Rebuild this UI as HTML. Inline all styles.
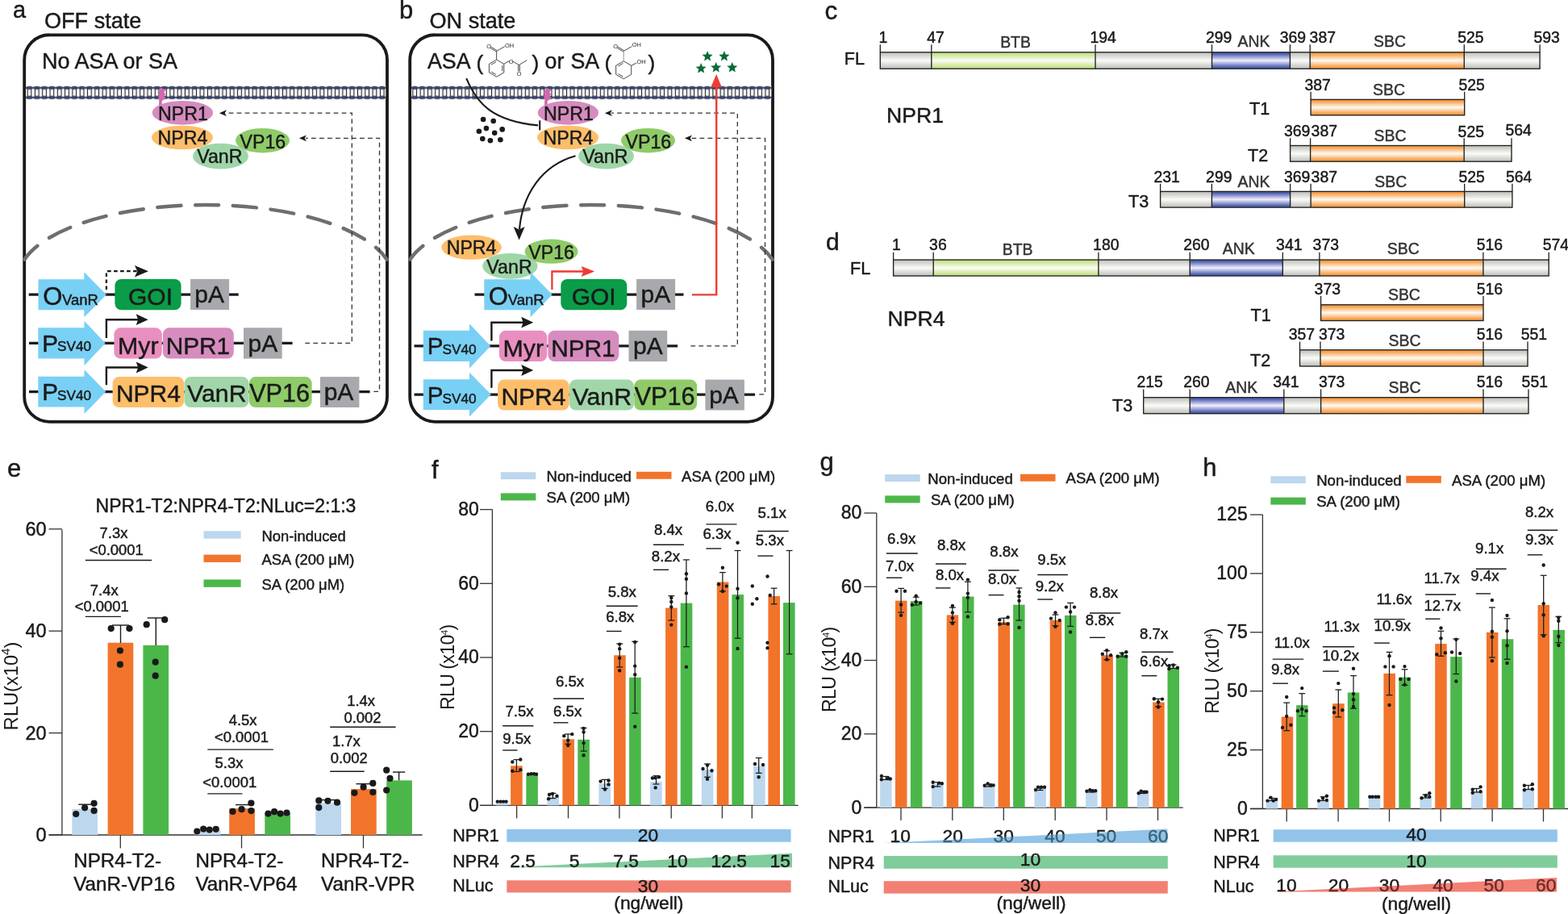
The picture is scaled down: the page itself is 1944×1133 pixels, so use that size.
<!DOCTYPE html><html><head><meta charset="utf-8"><title>Figure</title><style>html,body{margin:0;padding:0;background:#fff;overflow:hidden;}svg{display:block;}</style></head><body>
<svg width="1944" height="1133" viewBox="0 0 1944 1133" font-family="'Liberation Sans', Arial, sans-serif">
<rect x="0" y="0" width="1944" height="1133" fill="#fff"/>
<defs>
<pattern id="memA" x="59.718" y="106.6" width="9.304" height="17" patternUnits="userSpaceOnUse">
<rect x="0" y="0" width="9.3" height="17" fill="#fff"/>
<rect x="0" y="1.5" width="9.3" height="1.8" fill="#262628"/>
<rect x="0" y="13.4" width="9.3" height="1.8" fill="#262628"/>
<rect x="2.3" y="2.6" width="4.7" height="11.6" rx="1.6" fill="#fff" stroke="#262628" stroke-width="1.15"/>
<ellipse cx="4.65" cy="2.2" rx="4.1" ry="1.75" fill="#37498c" stroke="#262628" stroke-width="0.75"/>
<ellipse cx="4.65" cy="14.3" rx="4.1" ry="1.75" fill="#37498c" stroke="#262628" stroke-width="0.75"/>
</pattern>
<pattern id="memB" x="537.409" y="106.6" width="9.301" height="17" patternUnits="userSpaceOnUse">
<rect x="0" y="0" width="9.3" height="17" fill="#fff"/>
<rect x="0" y="1.5" width="9.3" height="1.8" fill="#262628"/>
<rect x="0" y="13.4" width="9.3" height="1.8" fill="#262628"/>
<rect x="2.3" y="2.6" width="4.7" height="11.6" rx="1.6" fill="#fff" stroke="#262628" stroke-width="1.15"/>
<ellipse cx="4.65" cy="2.2" rx="4.1" ry="1.75" fill="#37498c" stroke="#262628" stroke-width="0.75"/>
<ellipse cx="4.65" cy="14.3" rx="4.1" ry="1.75" fill="#37498c" stroke="#262628" stroke-width="0.75"/>
</pattern>
<linearGradient id="gGray" x1="0" y1="0" x2="0" y2="1">
<stop offset="0" stop-color="#c9cac4"/><stop offset="0.1" stop-color="#c9cac4"/><stop offset="0.5" stop-color="#fbfbf9"/><stop offset="0.9" stop-color="#c9cac4"/><stop offset="1" stop-color="#c9cac4"/>
</linearGradient>
<linearGradient id="gGreen" x1="0" y1="0" x2="0" y2="1">
<stop offset="0" stop-color="#c6e28c"/><stop offset="0.1" stop-color="#c6e28c"/><stop offset="0.5" stop-color="#fbfdf6"/><stop offset="0.9" stop-color="#c6e28c"/><stop offset="1" stop-color="#c6e28c"/>
</linearGradient>
<linearGradient id="gBlue" x1="0" y1="0" x2="0" y2="1">
<stop offset="0" stop-color="#5060b0"/><stop offset="0.1" stop-color="#5060b0"/><stop offset="0.5" stop-color="#f0f0ff"/><stop offset="0.9" stop-color="#5060b0"/><stop offset="1" stop-color="#5060b0"/>
</linearGradient>
<linearGradient id="gOrange" x1="0" y1="0" x2="0" y2="1">
<stop offset="0" stop-color="#f79f48"/><stop offset="0.1" stop-color="#f79f48"/><stop offset="0.5" stop-color="#fffaf4"/><stop offset="0.9" stop-color="#f79f48"/><stop offset="1" stop-color="#f79f48"/>
</linearGradient>
<marker id="ahB" viewBox="0 0 10 10" refX="9" refY="5" markerWidth="10" markerHeight="10" markerUnits="userSpaceOnUse" orient="auto"><path d="M0,0 L10,5 L0,10 L2.5,5 z" fill="#1a1a1a"/></marker>
</defs>
<text x="15.9" y="22.3" font-size="28.9" fill="#1a1a1a" stroke="#1a1a1a" stroke-width="0.45">a</text>
<text x="55" y="35" font-size="27.1" fill="#1a1a1a" stroke="#1a1a1a" stroke-width="0.45">OFF state</text>
<text x="52" y="84.9" font-size="27" fill="#1a1a1a" stroke="#1a1a1a" stroke-width="0.45">No ASA or SA</text>
<rect x="30.2" y="43.3" width="449.8" height="479.5" rx="31" fill="none" stroke="#1a1a1a" stroke-width="3.85"/>
<rect x="32" y="106.6" width="446.3" height="16.6" fill="url(#memA)"/>
<path d="M30.5,321.53 A232,90.3 0 0 1 479.5,321.53" fill="none" stroke="#6d6e71" stroke-width="4.5" stroke-dasharray="29.1 17.7" stroke-dashoffset="5.8" stroke-linecap="round"/>
<path d="M200.2,108.9 L205.5,111.7 L203.1,114.6 L205.2,116.5 L203.2,118.8 L205.7,121.5 L200.7,125.2 L200.7,131 L197,131 L197.3,122.5 L196,119.9 L198.1,117.2 L195.2,114.5 L198.6,110.9 Z" fill="#d466ad" stroke="none" stroke-width="1"/>
<ellipse cx="226.4" cy="139.8" rx="37.7" ry="14.9" fill="#d68bbf"/>
<ellipse cx="226" cy="170.5" rx="38" ry="14.8" fill="#fdbe6a"/>
<ellipse cx="273.5" cy="193.6" rx="34.5" ry="15.9" fill="#9fd6a8"/>
<ellipse cx="325.5" cy="174.2" rx="33.5" ry="15.3" fill="#8fcb68"/>
<text x="226.9" y="148.8" font-size="23.2" text-anchor="middle" fill="#1a1a1a" stroke="#1a1a1a" stroke-width="0.45">NPR1</text>
<text x="226.4" y="178.6" font-size="23.2" text-anchor="middle" fill="#1a1a1a" stroke="#1a1a1a" stroke-width="0.45">NPR4</text>
<text x="272.3" y="202.1" font-size="23.2" text-anchor="middle" fill="#1a1a1a" stroke="#1a1a1a" stroke-width="0.45">VanR</text>
<text x="325.9" y="183.5" font-size="23.2" text-anchor="middle" fill="#1a1a1a" stroke="#1a1a1a" stroke-width="0.45">VP16</text>
<path d="M378.3,425.3 L436.3,425.3 L436.3,140.2 L280,140.2" fill="none" stroke="#333" stroke-width="1.3" stroke-dasharray="5.8 4.2"/>
<path d="M271.9,140.2 L280.9,136.3 L278.7,140.2 L280.9,144.1 Z" fill="#1a1a1a" stroke="none" stroke-width="1"/>
<path d="M463.3,485.4 L470.5,485.4 L470.5,171.3 L379,171.3" fill="none" stroke="#333" stroke-width="1.3" stroke-dasharray="5.8 4.2"/>
<path d="M370.9,171.3 L379.9,167.4 L377.7,171.3 L379.9,175.2 Z" fill="#1a1a1a" stroke="none" stroke-width="1"/>
<line x1="35.7" y1="365.2" x2="295.7" y2="365.2" stroke="#1a1a1a" stroke-width="3.3"/>
<path d="M47.5,346.2 L104.3,346.2 L104.3,337.2 L131.9,365.2 L104.3,393.2 L104.3,384.2 L47.5,384.2 Z" fill="#79d0f5" stroke="none" stroke-width="1"/>
<rect x="142.4" y="345.9" width="82.2" height="38.4" rx="8" fill="#0a9c49"/>
<rect x="236.1" y="345.9" width="48" height="38.1" fill="#a7a9ac"/>
<text x="53.2" y="378" font-size="31" fill="#1a1a1a" stroke="#1a1a1a" stroke-width="0.45">O</text>
<text x="77" y="377.5" font-size="18.5" fill="#1a1a1a" stroke="#1a1a1a" stroke-width="0.45">VanR</text>
<text x="186.5" y="377.8" font-size="30" text-anchor="middle" fill="#1a1a1a" stroke="#1a1a1a" stroke-width="0.45">GOI</text>
<text x="259.6" y="375.3" font-size="30" text-anchor="middle" fill="#1a1a1a" stroke="#1a1a1a" stroke-width="0.45">pA</text>
<path d="M131.9,359 L131.9,336.2 L170,336.2" fill="none" stroke="#1a1a1a" stroke-width="2.3" stroke-dasharray="4.6 3.4"/>
<path d="M183.9,336.3 L166.9,329.1 L170.4,336.3 L166.9,343.5 Z" fill="#1a1a1a" stroke="none" stroke-width="1"/>
<line x1="36" y1="425.4" x2="362.6" y2="425.4" stroke="#1a1a1a" stroke-width="3.3"/>
<path d="M47.3,406.3 L104.5,406.3 L104.5,397.7 L130.7,425.4 L104.5,453.1 L104.5,444.5 L47.3,444.5 Z" fill="#79d0f5" stroke="none" stroke-width="1"/>
<rect x="141.4" y="406.3" width="59.4" height="38.3" rx="8" fill="#e98fc0"/>
<rect x="201.9" y="406.3" width="87.9" height="38.3" rx="8" fill="#d78cbf"/>
<rect x="302" y="406.3" width="47.7" height="38.3" fill="#a7a9ac"/>
<text x="52.3" y="435.6" font-size="29.5" fill="#1a1a1a" stroke="#1a1a1a" stroke-width="0.45">P</text>
<text x="71" y="435.4" font-size="17.2" fill="#1a1a1a" stroke="#1a1a1a" stroke-width="0.45">SV40</text>
<text x="171.3" y="438.5" font-size="30.3" text-anchor="middle" fill="#1a1a1a" stroke="#1a1a1a" stroke-width="0.45">Myr</text>
<text x="245.4" y="438.5" font-size="29.8" text-anchor="middle" fill="#1a1a1a" stroke="#1a1a1a" stroke-width="0.45">NPR1</text>
<text x="325.9" y="435.5" font-size="30" text-anchor="middle" fill="#1a1a1a" stroke="#1a1a1a" stroke-width="0.45">pA</text>
<path d="M131.9,419 L131.9,396.2 L172,396.2" fill="none" stroke="#1a1a1a" stroke-width="2.4"/>
<path d="M183.7,396.2 L168.7,389.3 L171.2,396.2 L168.7,403.1 Z" fill="#1a1a1a" stroke="none" stroke-width="1"/>
<line x1="36" y1="485.6" x2="458.6" y2="485.6" stroke="#1a1a1a" stroke-width="3.3"/>
<path d="M47.3,466.8 L104.5,466.8 L104.5,458.2 L131.3,485.6 L104.5,513 L104.5,504.4 L47.3,504.4 Z" fill="#79d0f5" stroke="none" stroke-width="1"/>
<rect x="139.6" y="467.1" width="88.6" height="37.9" rx="8" fill="#fdbe6a"/>
<rect x="228.5" y="467.1" width="80" height="37.9" rx="8" fill="#a1d6a9"/>
<rect x="308.8" y="467.1" width="77.8" height="37.9" rx="8" fill="#8fcb68"/>
<rect x="396.9" y="467.1" width="48.5" height="37.9" fill="#a7a9ac"/>
<text x="52.3" y="496.3" font-size="29.5" fill="#1a1a1a" stroke="#1a1a1a" stroke-width="0.45">P</text>
<text x="71" y="496.1" font-size="17.2" fill="#1a1a1a" stroke="#1a1a1a" stroke-width="0.45">SV40</text>
<text x="183.9" y="498.2" font-size="30" text-anchor="middle" fill="#1a1a1a" stroke="#1a1a1a" stroke-width="0.45">NPR4</text>
<text x="268.8" y="498.2" font-size="30.3" text-anchor="middle" fill="#1a1a1a" stroke="#1a1a1a" stroke-width="0.45">VanR</text>
<text x="346.6" y="498.2" font-size="30.6" text-anchor="middle" fill="#1a1a1a" stroke="#1a1a1a" stroke-width="0.45">VP16</text>
<text x="420" y="496.3" font-size="30" text-anchor="middle" fill="#1a1a1a" stroke="#1a1a1a" stroke-width="0.45">pA</text>
<path d="M131.9,477.3 L131.9,455.5 L172,455.5" fill="none" stroke="#1a1a1a" stroke-width="2.4"/>
<path d="M183.7,455.5 L168.7,448.6 L171.2,455.5 L168.7,462.4 Z" fill="#1a1a1a" stroke="none" stroke-width="1"/>
<text x="495" y="22.5" font-size="31" fill="#1a1a1a" stroke="#1a1a1a" stroke-width="0.45">b</text>
<text x="532.5" y="35" font-size="27.1" fill="#1a1a1a" stroke="#1a1a1a" stroke-width="0.45">ON state</text>
<rect x="508.2" y="43.3" width="449.8" height="479.5" rx="31" fill="none" stroke="#1a1a1a" stroke-width="3.85"/>
<rect x="510" y="106.6" width="446.3" height="16.6" fill="url(#memB)"/>
<path d="M508.5,321.53 A232,90.3 0 0 1 957.5,321.53" fill="none" stroke="#6d6e71" stroke-width="4.5" stroke-dasharray="29.1 17.7" stroke-dashoffset="5.8" stroke-linecap="round"/>
<path d="M678.2,108.9 L683.5,111.7 L681.1,114.6 L683.2,116.5 L681.2,118.8 L683.7,121.5 L678.7,125.2 L678.7,131 L675,131 L675.3,122.5 L674,119.9 L676.1,117.2 L673.2,114.5 L676.6,110.9 Z" fill="#d466ad" stroke="none" stroke-width="1"/>
<ellipse cx="704.4" cy="139.8" rx="37.7" ry="14.9" fill="#d68bbf"/>
<ellipse cx="704" cy="170.5" rx="38" ry="14.8" fill="#fdbe6a"/>
<ellipse cx="751.5" cy="193.6" rx="34.5" ry="15.9" fill="#9fd6a8"/>
<ellipse cx="803.5" cy="174.2" rx="33.5" ry="15.3" fill="#8fcb68"/>
<text x="704.9" y="148.8" font-size="23.2" text-anchor="middle" fill="#1a1a1a" stroke="#1a1a1a" stroke-width="0.45">NPR1</text>
<text x="704.4" y="178.6" font-size="23.2" text-anchor="middle" fill="#1a1a1a" stroke="#1a1a1a" stroke-width="0.45">NPR4</text>
<text x="750.3" y="202.1" font-size="23.2" text-anchor="middle" fill="#1a1a1a" stroke="#1a1a1a" stroke-width="0.45">VanR</text>
<text x="803.9" y="183.5" font-size="23.2" text-anchor="middle" fill="#1a1a1a" stroke="#1a1a1a" stroke-width="0.45">VP16</text>
<path d="M856.3,428.8 L914.3,428.8 L914.3,140.2 L758,140.2" fill="none" stroke="#333" stroke-width="1.3" stroke-dasharray="5.8 4.2"/>
<path d="M749.9,140.2 L758.9,136.3 L756.7,140.2 L758.9,144.1 Z" fill="#1a1a1a" stroke="none" stroke-width="1"/>
<path d="M941.3,488.9 L948.5,488.9 L948.5,171.3 L857,171.3" fill="none" stroke="#333" stroke-width="1.3" stroke-dasharray="5.8 4.2"/>
<path d="M848.9,171.3 L857.9,167.4 L855.7,171.3 L857.9,175.2 Z" fill="#1a1a1a" stroke="none" stroke-width="1"/>
<text x="530" y="85.3" font-size="26.8" fill="#1a1a1a" stroke="#1a1a1a" stroke-width="0.45">ASA</text>
<text x="590.5" y="86.5" font-size="26.2" fill="#1a1a1a" stroke="#1a1a1a" stroke-width="0.45">(</text>
<text x="659.5" y="86.5" font-size="26.2" fill="#1a1a1a" stroke="#1a1a1a" stroke-width="0.45">)</text>
<text x="675.5" y="85.3" font-size="26.8" fill="#1a1a1a" stroke="#1a1a1a" stroke-width="0.45">or</text>
<text x="707.5" y="85.3" font-size="26.8" fill="#1a1a1a" stroke="#1a1a1a" stroke-width="0.45">SA</text>
<text x="749.5" y="86.5" font-size="26.2" fill="#1a1a1a" stroke="#1a1a1a" stroke-width="0.45">(</text>
<text x="803.5" y="86.5" font-size="26.2" fill="#1a1a1a" stroke="#1a1a1a" stroke-width="0.45">)</text>
<path d="M615.6,74 L624.78,79.3 L624.78,89.9 L615.6,95.2 L606.42,89.9 L606.42,79.3 Z" fill="none" stroke="#333" stroke-width="0.9"/>
<line x1="622.78" y1="81.21" x2="622.78" y2="87.99" stroke="#333" stroke-width="0.9"/>
<line x1="614.95" y1="92.51" x2="609.07" y2="89.12" stroke="#333" stroke-width="0.9"/>
<line x1="609.07" y1="80.08" x2="614.95" y2="76.69" stroke="#333" stroke-width="0.9"/>
<line x1="615.6" y1="74" x2="615.7" y2="63.3" stroke="#333" stroke-width="0.9"/>
<line x1="616.12" y1="62.62" x2="608.72" y2="58.12" stroke="#333" stroke-width="0.9"/>
<line x1="615.28" y1="63.98" x2="607.88" y2="59.48" stroke="#333" stroke-width="0.9"/>
<line x1="615.7" y1="63.3" x2="625.8" y2="57.6" stroke="#333" stroke-width="0.9"/>
<text x="606.2" y="60.2" font-size="7.4" text-anchor="middle" fill="#222">O</text>
<text x="626" y="58.8" font-size="7.4" fill="#222">OH</text>
<line x1="624.78" y1="79.3" x2="631.3" y2="75.6" stroke="#333" stroke-width="0.9"/>
<text x="633.6" y="78.6" font-size="7.4" text-anchor="middle" fill="#222">O</text>
<line x1="636" y1="76.3" x2="643.5" y2="80.5" stroke="#333" stroke-width="0.9"/>
<line x1="643.5" y1="80.5" x2="653.3" y2="74.6" stroke="#333" stroke-width="0.9"/>
<line x1="642.7" y1="80.5" x2="642.7" y2="88.5" stroke="#333" stroke-width="0.9"/>
<line x1="644.3" y1="80.5" x2="644.3" y2="88.5" stroke="#333" stroke-width="0.9"/>
<text x="643.5" y="94.2" font-size="7.4" text-anchor="middle" fill="#222">O</text>
<path d="M773.2,75.8 L782.73,81.3 L782.73,92.3 L773.2,97.8 L763.67,92.3 L763.67,81.3 Z" fill="none" stroke="#333" stroke-width="0.9"/>
<line x1="772.49" y1="95.08" x2="766.39" y2="91.56" stroke="#333" stroke-width="0.9"/>
<line x1="766.39" y1="82.04" x2="772.49" y2="78.52" stroke="#333" stroke-width="0.9"/>
<line x1="773.2" y1="75.8" x2="773.2" y2="63.3" stroke="#888" stroke-width="0.9"/>
<line x1="773.6" y1="62.61" x2="765.9" y2="58.11" stroke="#333" stroke-width="0.9"/>
<line x1="772.8" y1="63.99" x2="765.1" y2="59.49" stroke="#333" stroke-width="0.9"/>
<line x1="773.2" y1="63.3" x2="783.3" y2="57.6" stroke="#333" stroke-width="0.9"/>
<text x="763.2" y="60.2" font-size="7.4" text-anchor="middle" fill="#222">O</text>
<text x="783.8" y="58.4" font-size="7.4" fill="#222">OH</text>
<line x1="782.73" y1="81.3" x2="789.2" y2="78" stroke="#333" stroke-width="0.9"/>
<text x="789.5" y="79.4" font-size="7.4" fill="#222">OH</text>
<path d="M578.2,97.1 C592,130 612,150 667,155.4" fill="none" stroke="#1a1a1a" stroke-width="2.1"/>
<line x1="669.2" y1="149.3" x2="669.2" y2="161.4" stroke="#1a1a1a" stroke-width="2.1"/>
<circle cx="599.1" cy="148" r="3.3" fill="#1a1a1a"/>
<circle cx="611.7" cy="150" r="3.3" fill="#1a1a1a"/>
<circle cx="602.9" cy="159.1" r="3.3" fill="#1a1a1a"/>
<circle cx="622.7" cy="160.4" r="3.3" fill="#1a1a1a"/>
<circle cx="593.9" cy="162.7" r="3.3" fill="#1a1a1a"/>
<circle cx="613.2" cy="164.8" r="3.3" fill="#1a1a1a"/>
<circle cx="598.3" cy="172" r="3.3" fill="#1a1a1a"/>
<circle cx="607.9" cy="174.2" r="3.3" fill="#1a1a1a"/>
<circle cx="620.4" cy="173.3" r="3.3" fill="#1a1a1a"/>
<path d="M713.5,193.3 C672,205 648,240 644,284" fill="none" stroke="#1a1a1a" stroke-width="2.1"/>
<path d="M643.6,297.4 L636.6,280.9 L643.6,284.4 L650.6,280.9 Z" fill="#1a1a1a" stroke="none" stroke-width="1"/>
<path d="M877.1,63.1 L878.92,67.49 L883.66,67.87 L880.05,70.96 L881.16,75.58 L877.1,73.1 L873.04,75.58 L874.15,70.96 L870.54,67.87 L875.28,67.49 Z" fill="#0b6b37" stroke="none" stroke-width="1"/>
<path d="M897.9,63.1 L899.72,67.49 L904.46,67.87 L900.85,70.96 L901.96,75.58 L897.9,73.1 L893.84,75.58 L894.95,70.96 L891.34,67.87 L896.08,67.49 Z" fill="#0b6b37" stroke="none" stroke-width="1"/>
<path d="M869.1,78 L870.92,82.39 L875.66,82.77 L872.05,85.86 L873.16,90.48 L869.1,88 L865.04,90.48 L866.15,85.86 L862.54,82.77 L867.28,82.39 Z" fill="#0b6b37" stroke="none" stroke-width="1"/>
<path d="M887.7,76.9 L889.52,81.29 L894.26,81.67 L890.65,84.76 L891.76,89.38 L887.7,86.9 L883.64,89.38 L884.75,84.76 L881.14,81.67 L885.88,81.29 Z" fill="#0b6b37" stroke="none" stroke-width="1"/>
<path d="M907.8,76.9 L909.62,81.29 L914.36,81.67 L910.75,84.76 L911.86,89.38 L907.8,86.9 L903.74,89.38 L904.85,84.76 L901.24,81.67 L905.98,81.29 Z" fill="#0b6b37" stroke="none" stroke-width="1"/>
<path d="M858,365.4 L888.2,365.4 L888.2,106" fill="none" stroke="#ee3b33" stroke-width="2.4"/>
<path d="M888.1,92 L881.3,108.3 L894.9,108.3 Z" fill="#ee3b33" stroke="none" stroke-width="1"/>
<ellipse cx="584.6" cy="306.6" rx="37.3" ry="15.2" fill="#fdbe6a"/>
<ellipse cx="632.4" cy="329.8" rx="34.2" ry="15.9" fill="#9fd6a8"/>
<ellipse cx="683.6" cy="311.7" rx="33" ry="15.1" fill="#8fcb68"/>
<text x="584.6" y="315.2" font-size="23.2" text-anchor="middle" fill="#1a1a1a" stroke="#1a1a1a" stroke-width="0.45">NPR4</text>
<text x="631.5" y="338.6" font-size="23.2" text-anchor="middle" fill="#1a1a1a" stroke="#1a1a1a" stroke-width="0.45">VanR</text>
<text x="683.6" y="320.6" font-size="23.2" text-anchor="middle" fill="#1a1a1a" stroke="#1a1a1a" stroke-width="0.45">VP16</text>
<line x1="588.5" y1="365.2" x2="847.5" y2="365.2" stroke="#1a1a1a" stroke-width="3.3"/>
<path d="M600.3,346.2 L657.5,346.2 L657.5,337.2 L684.7,365.2 L657.5,393.2 L657.5,384.2 L600.3,384.2 Z" fill="#79d0f5" stroke="none" stroke-width="1"/>
<rect x="695.3" y="345.9" width="82" height="38.4" rx="8" fill="#0a9c49"/>
<rect x="789.1" y="345.9" width="48" height="38.1" fill="#a7a9ac"/>
<text x="605.8" y="378" font-size="31" fill="#1a1a1a" stroke="#1a1a1a" stroke-width="0.45">O</text>
<text x="629.8" y="377.5" font-size="18.5" fill="#1a1a1a" stroke="#1a1a1a" stroke-width="0.45">VanR</text>
<text x="736.2" y="377.8" font-size="30" text-anchor="middle" fill="#1a1a1a" stroke="#1a1a1a" stroke-width="0.45">GOI</text>
<text x="812.9" y="375.3" font-size="30" text-anchor="middle" fill="#1a1a1a" stroke="#1a1a1a" stroke-width="0.45">pA</text>
<path d="M684.4,359 L684.4,336.5 L724,336.5" fill="none" stroke="#ee3b33" stroke-width="2.3"/>
<path d="M737.2,336.5 L720.7,329.9 L723.3,336.5 L720.7,343.1 Z" fill="#ee3b33" stroke="none" stroke-width="1"/>
<g transform="translate(-0.5,3.5)">
<line x1="514" y1="425.4" x2="840.6" y2="425.4" stroke="#1a1a1a" stroke-width="3.3"/>
<path d="M525.3,406.3 L582.5,406.3 L582.5,397.7 L608.7,425.4 L582.5,453.1 L582.5,444.5 L525.3,444.5 Z" fill="#79d0f5" stroke="none" stroke-width="1"/>
<rect x="619.4" y="406.3" width="59.4" height="38.3" rx="8" fill="#e98fc0"/>
<rect x="679.9" y="406.3" width="87.9" height="38.3" rx="8" fill="#d78cbf"/>
<rect x="780" y="406.3" width="47.7" height="38.3" fill="#a7a9ac"/>
<text x="530.3" y="435.6" font-size="29.5" fill="#1a1a1a" stroke="#1a1a1a" stroke-width="0.45">P</text>
<text x="549" y="435.4" font-size="17.2" fill="#1a1a1a" stroke="#1a1a1a" stroke-width="0.45">SV40</text>
<text x="649.3" y="438.5" font-size="30.3" text-anchor="middle" fill="#1a1a1a" stroke="#1a1a1a" stroke-width="0.45">Myr</text>
<text x="723.4" y="438.5" font-size="29.8" text-anchor="middle" fill="#1a1a1a" stroke="#1a1a1a" stroke-width="0.45">NPR1</text>
<text x="803.9" y="435.5" font-size="30" text-anchor="middle" fill="#1a1a1a" stroke="#1a1a1a" stroke-width="0.45">pA</text>
<path d="M609.9,419 L609.9,396.2 L650,396.2" fill="none" stroke="#1a1a1a" stroke-width="2.4"/>
<path d="M661.7,396.2 L646.7,389.3 L649.2,396.2 L646.7,403.1 Z" fill="#1a1a1a" stroke="none" stroke-width="1"/>
<line x1="514" y1="485.6" x2="936.6" y2="485.6" stroke="#1a1a1a" stroke-width="3.3"/>
<path d="M525.3,466.8 L582.5,466.8 L582.5,458.2 L609.3,485.6 L582.5,513 L582.5,504.4 L525.3,504.4 Z" fill="#79d0f5" stroke="none" stroke-width="1"/>
<rect x="617.6" y="467.1" width="88.6" height="37.9" rx="8" fill="#fdbe6a"/>
<rect x="706.5" y="467.1" width="80" height="37.9" rx="8" fill="#a1d6a9"/>
<rect x="786.8" y="467.1" width="77.8" height="37.9" rx="8" fill="#8fcb68"/>
<rect x="874.9" y="467.1" width="48.5" height="37.9" fill="#a7a9ac"/>
<text x="530.3" y="496.3" font-size="29.5" fill="#1a1a1a" stroke="#1a1a1a" stroke-width="0.45">P</text>
<text x="549" y="496.1" font-size="17.2" fill="#1a1a1a" stroke="#1a1a1a" stroke-width="0.45">SV40</text>
<text x="661.9" y="498.2" font-size="30" text-anchor="middle" fill="#1a1a1a" stroke="#1a1a1a" stroke-width="0.45">NPR4</text>
<text x="746.8" y="498.2" font-size="30.3" text-anchor="middle" fill="#1a1a1a" stroke="#1a1a1a" stroke-width="0.45">VanR</text>
<text x="824.6" y="498.2" font-size="30.6" text-anchor="middle" fill="#1a1a1a" stroke="#1a1a1a" stroke-width="0.45">VP16</text>
<text x="898" y="496.3" font-size="30" text-anchor="middle" fill="#1a1a1a" stroke="#1a1a1a" stroke-width="0.45">pA</text>
<path d="M609.9,477.3 L609.9,455.5 L650,455.5" fill="none" stroke="#1a1a1a" stroke-width="2.4"/>
<path d="M661.7,455.5 L646.7,448.6 L649.2,455.5 L646.7,462.4 Z" fill="#1a1a1a" stroke="none" stroke-width="1"/>
</g>
<text x="1022.6" y="24.3" font-size="31.5" fill="#1a1a1a" stroke="#1a1a1a" stroke-width="0.45">c</text>
<rect x="1091.3" y="64.8" width="63.5" height="20.4" fill="url(#gGray)"/>
<rect x="1154.8" y="64.8" width="203.2" height="20.4" fill="url(#gGreen)"/>
<rect x="1358" y="64.8" width="144.5" height="20.4" fill="url(#gGray)"/>
<rect x="1502.5" y="64.8" width="96.9" height="20.4" fill="url(#gBlue)"/>
<rect x="1599.4" y="64.8" width="24.8" height="20.4" fill="url(#gGray)"/>
<rect x="1624.2" y="64.8" width="191.1" height="20.4" fill="url(#gOrange)"/>
<rect x="1815.3" y="64.8" width="93.8" height="20.4" fill="url(#gGray)"/>
<rect x="1091.3" y="64.8" width="817.8" height="20.4" fill="none" stroke="#1e1e1e" stroke-width="1.35"/>
<line x1="1154.8" y1="64.8" x2="1154.8" y2="85.2" stroke="#1e1e1e" stroke-width="1.35"/>
<line x1="1358" y1="64.8" x2="1358" y2="85.2" stroke="#1e1e1e" stroke-width="1.35"/>
<line x1="1502.5" y1="64.8" x2="1502.5" y2="85.2" stroke="#1e1e1e" stroke-width="1.35"/>
<line x1="1599.4" y1="64.8" x2="1599.4" y2="85.2" stroke="#1e1e1e" stroke-width="1.35"/>
<line x1="1624.2" y1="64.8" x2="1624.2" y2="85.2" stroke="#1e1e1e" stroke-width="1.35"/>
<line x1="1815.3" y1="64.8" x2="1815.3" y2="85.2" stroke="#1e1e1e" stroke-width="1.35"/>
<line x1="1091.3" y1="55.2" x2="1091.3" y2="64.8" stroke="#1e1e1e" stroke-width="1.3"/>
<line x1="1154.8" y1="55.2" x2="1154.8" y2="64.8" stroke="#1e1e1e" stroke-width="1.3"/>
<line x1="1358" y1="55.2" x2="1358" y2="64.8" stroke="#1e1e1e" stroke-width="1.3"/>
<line x1="1502.5" y1="55.2" x2="1502.5" y2="64.8" stroke="#1e1e1e" stroke-width="1.3"/>
<line x1="1599.4" y1="55.2" x2="1599.4" y2="64.8" stroke="#1e1e1e" stroke-width="1.3"/>
<line x1="1624.2" y1="55.2" x2="1624.2" y2="64.8" stroke="#1e1e1e" stroke-width="1.3"/>
<line x1="1815.3" y1="55.2" x2="1815.3" y2="64.8" stroke="#1e1e1e" stroke-width="1.3"/>
<line x1="1909.1" y1="55.2" x2="1909.1" y2="64.8" stroke="#1e1e1e" stroke-width="1.3"/>
<text x="1089.6" y="53.4" font-size="19.4" fill="#1a1a1a" stroke="#1a1a1a" stroke-width="0.45">1</text>
<text x="1149.2" y="53.4" font-size="19.4" fill="#1a1a1a" stroke="#1a1a1a" stroke-width="0.45">47</text>
<text x="1351.4" y="53.4" font-size="19.4" fill="#1a1a1a" stroke="#1a1a1a" stroke-width="0.45">194</text>
<text x="1495" y="53.4" font-size="19.4" fill="#1a1a1a" stroke="#1a1a1a" stroke-width="0.45">299</text>
<text x="1586.7" y="53.4" font-size="19.4" fill="#1a1a1a" stroke="#1a1a1a" stroke-width="0.45">369</text>
<text x="1623.6" y="53.4" font-size="19.4" fill="#1a1a1a" stroke="#1a1a1a" stroke-width="0.45">387</text>
<text x="1807.2" y="53.4" font-size="19.4" fill="#1a1a1a" stroke="#1a1a1a" stroke-width="0.45">525</text>
<text x="1901.4" y="53.4" font-size="19.4" fill="#1a1a1a" stroke="#1a1a1a" stroke-width="0.45">593</text>
<text x="1259" y="58.6" font-size="19.4" text-anchor="middle" fill="#333" stroke="#333" stroke-width="0.45">BTB</text>
<text x="1554.4" y="58.4" font-size="19.4" text-anchor="middle" fill="#333" stroke="#333" stroke-width="0.45">ANK</text>
<text x="1723" y="58.4" font-size="19.4" text-anchor="middle" fill="#333" stroke="#333" stroke-width="0.45">SBC</text>
<text x="1046.8" y="79.6" font-size="21.5" fill="#1a1a1a" stroke="#1a1a1a" stroke-width="0.45">FL</text>
<text x="1099" y="152" font-size="26.6" fill="#1a1a1a" stroke="#1a1a1a" stroke-width="0.45">NPR1</text>
<rect x="1625.1" y="123.4" width="190.6" height="19.4" fill="url(#gOrange)"/>
<rect x="1625.1" y="123.4" width="190.6" height="19.4" fill="none" stroke="#1e1e1e" stroke-width="1.35"/>
<line x1="1625.1" y1="113.8" x2="1625.1" y2="123.4" stroke="#1e1e1e" stroke-width="1.3"/>
<line x1="1815.7" y1="113.8" x2="1815.7" y2="123.4" stroke="#1e1e1e" stroke-width="1.3"/>
<text x="1617.5" y="111.8" font-size="19.4" fill="#1a1a1a" stroke="#1a1a1a" stroke-width="0.45">387</text>
<text x="1808.4" y="111.8" font-size="19.4" fill="#1a1a1a" stroke="#1a1a1a" stroke-width="0.45">525</text>
<text x="1722" y="117.6" font-size="19.4" text-anchor="middle" fill="#333" stroke="#333" stroke-width="0.45">SBC</text>
<text x="1549" y="141.6" font-size="21.5" fill="#1a1a1a" stroke="#1a1a1a" stroke-width="0.45">T1</text>
<rect x="1599.6" y="180.5" width="25" height="19.7" fill="url(#gGray)"/>
<rect x="1624.6" y="180.5" width="190.6" height="19.7" fill="url(#gOrange)"/>
<rect x="1815.2" y="180.5" width="58.8" height="19.7" fill="url(#gGray)"/>
<rect x="1599.6" y="180.5" width="274.4" height="19.7" fill="none" stroke="#1e1e1e" stroke-width="1.35"/>
<line x1="1624.6" y1="180.5" x2="1624.6" y2="200.2" stroke="#1e1e1e" stroke-width="1.35"/>
<line x1="1815.2" y1="180.5" x2="1815.2" y2="200.2" stroke="#1e1e1e" stroke-width="1.35"/>
<line x1="1599.6" y1="171.2" x2="1599.6" y2="180.5" stroke="#1e1e1e" stroke-width="1.3"/>
<line x1="1624.6" y1="171.2" x2="1624.6" y2="180.5" stroke="#1e1e1e" stroke-width="1.3"/>
<line x1="1815.2" y1="171.2" x2="1815.2" y2="180.5" stroke="#1e1e1e" stroke-width="1.3"/>
<line x1="1874" y1="171.2" x2="1874" y2="180.5" stroke="#1e1e1e" stroke-width="1.3"/>
<text x="1592" y="168.9" font-size="19.4" fill="#1a1a1a" stroke="#1a1a1a" stroke-width="0.45">369</text>
<text x="1625.6" y="168.9" font-size="19.4" fill="#1a1a1a" stroke="#1a1a1a" stroke-width="0.45">387</text>
<text x="1807.6" y="169.8" font-size="19.4" fill="#1a1a1a" stroke="#1a1a1a" stroke-width="0.45">525</text>
<text x="1866.4" y="168.3" font-size="19.4" fill="#1a1a1a" stroke="#1a1a1a" stroke-width="0.45">564</text>
<text x="1723.5" y="174.7" font-size="19.4" text-anchor="middle" fill="#333" stroke="#333" stroke-width="0.45">SBC</text>
<text x="1547" y="199.7" font-size="21.5" fill="#1a1a1a" stroke="#1a1a1a" stroke-width="0.45">T2</text>
<rect x="1438.6" y="237.4" width="63.8" height="19.7" fill="url(#gGray)"/>
<rect x="1502.4" y="237.4" width="97.2" height="19.7" fill="url(#gBlue)"/>
<rect x="1599.6" y="237.4" width="25.5" height="19.7" fill="url(#gGray)"/>
<rect x="1625.1" y="237.4" width="190.6" height="19.7" fill="url(#gOrange)"/>
<rect x="1815.7" y="237.4" width="59.2" height="19.7" fill="url(#gGray)"/>
<rect x="1438.6" y="237.4" width="436.3" height="19.7" fill="none" stroke="#1e1e1e" stroke-width="1.35"/>
<line x1="1502.4" y1="237.4" x2="1502.4" y2="257.1" stroke="#1e1e1e" stroke-width="1.35"/>
<line x1="1599.6" y1="237.4" x2="1599.6" y2="257.1" stroke="#1e1e1e" stroke-width="1.35"/>
<line x1="1625.1" y1="237.4" x2="1625.1" y2="257.1" stroke="#1e1e1e" stroke-width="1.35"/>
<line x1="1815.7" y1="237.4" x2="1815.7" y2="257.1" stroke="#1e1e1e" stroke-width="1.35"/>
<line x1="1438.6" y1="227.8" x2="1438.6" y2="237.4" stroke="#1e1e1e" stroke-width="1.3"/>
<line x1="1502.4" y1="227.8" x2="1502.4" y2="237.4" stroke="#1e1e1e" stroke-width="1.3"/>
<line x1="1599.6" y1="227.8" x2="1599.6" y2="237.4" stroke="#1e1e1e" stroke-width="1.3"/>
<line x1="1625.1" y1="227.8" x2="1625.1" y2="237.4" stroke="#1e1e1e" stroke-width="1.3"/>
<line x1="1815.7" y1="227.8" x2="1815.7" y2="237.4" stroke="#1e1e1e" stroke-width="1.3"/>
<line x1="1874.9" y1="227.8" x2="1874.9" y2="237.4" stroke="#1e1e1e" stroke-width="1.3"/>
<text x="1430.4" y="225.8" font-size="19.4" fill="#1a1a1a" stroke="#1a1a1a" stroke-width="0.45">231</text>
<text x="1495.1" y="225.8" font-size="19.4" fill="#1a1a1a" stroke="#1a1a1a" stroke-width="0.45">299</text>
<text x="1592" y="225.8" font-size="19.4" fill="#1a1a1a" stroke="#1a1a1a" stroke-width="0.45">369</text>
<text x="1625.6" y="225.8" font-size="19.4" fill="#1a1a1a" stroke="#1a1a1a" stroke-width="0.45">387</text>
<text x="1808.4" y="225.8" font-size="19.4" fill="#1a1a1a" stroke="#1a1a1a" stroke-width="0.45">525</text>
<text x="1867" y="225.8" font-size="19.4" fill="#1a1a1a" stroke="#1a1a1a" stroke-width="0.45">564</text>
<text x="1554.5" y="232.2" font-size="19.4" text-anchor="middle" fill="#333" stroke="#333" stroke-width="0.45">ANK</text>
<text x="1724.3" y="232.2" font-size="19.4" text-anchor="middle" fill="#333" stroke="#333" stroke-width="0.45">SBC</text>
<text x="1399" y="256.8" font-size="21.5" fill="#1a1a1a" stroke="#1a1a1a" stroke-width="0.45">T3</text>
<text x="1024" y="310.3" font-size="30" fill="#1a1a1a" stroke="#1a1a1a" stroke-width="0.45">d</text>
<rect x="1107.6" y="322.1" width="49.6" height="19.9" fill="url(#gGray)"/>
<rect x="1157.2" y="322.1" width="204.7" height="19.9" fill="url(#gGreen)"/>
<rect x="1361.9" y="322.1" width="113.3" height="19.9" fill="url(#gGray)"/>
<rect x="1475.2" y="322.1" width="115.1" height="19.9" fill="url(#gBlue)"/>
<rect x="1590.3" y="322.1" width="45.6" height="19.9" fill="url(#gGray)"/>
<rect x="1635.9" y="322.1" width="203" height="19.9" fill="url(#gOrange)"/>
<rect x="1838.9" y="322.1" width="81.3" height="19.9" fill="url(#gGray)"/>
<rect x="1107.6" y="322.1" width="812.6" height="19.9" fill="none" stroke="#1e1e1e" stroke-width="1.35"/>
<line x1="1157.2" y1="322.1" x2="1157.2" y2="342" stroke="#1e1e1e" stroke-width="1.35"/>
<line x1="1361.9" y1="322.1" x2="1361.9" y2="342" stroke="#1e1e1e" stroke-width="1.35"/>
<line x1="1475.2" y1="322.1" x2="1475.2" y2="342" stroke="#1e1e1e" stroke-width="1.35"/>
<line x1="1590.3" y1="322.1" x2="1590.3" y2="342" stroke="#1e1e1e" stroke-width="1.35"/>
<line x1="1635.9" y1="322.1" x2="1635.9" y2="342" stroke="#1e1e1e" stroke-width="1.35"/>
<line x1="1838.9" y1="322.1" x2="1838.9" y2="342" stroke="#1e1e1e" stroke-width="1.35"/>
<line x1="1107.6" y1="312.7" x2="1107.6" y2="322.1" stroke="#1e1e1e" stroke-width="1.3"/>
<line x1="1157.2" y1="312.7" x2="1157.2" y2="322.1" stroke="#1e1e1e" stroke-width="1.3"/>
<line x1="1361.9" y1="312.7" x2="1361.9" y2="322.1" stroke="#1e1e1e" stroke-width="1.3"/>
<line x1="1475.2" y1="312.7" x2="1475.2" y2="322.1" stroke="#1e1e1e" stroke-width="1.3"/>
<line x1="1590.3" y1="312.7" x2="1590.3" y2="322.1" stroke="#1e1e1e" stroke-width="1.3"/>
<line x1="1635.9" y1="312.7" x2="1635.9" y2="322.1" stroke="#1e1e1e" stroke-width="1.3"/>
<line x1="1838.9" y1="312.7" x2="1838.9" y2="322.1" stroke="#1e1e1e" stroke-width="1.3"/>
<line x1="1920.2" y1="312.7" x2="1920.2" y2="322.1" stroke="#1e1e1e" stroke-width="1.3"/>
<text x="1106" y="310.2" font-size="19.4" fill="#1a1a1a" stroke="#1a1a1a" stroke-width="0.45">1</text>
<text x="1152.1" y="310.2" font-size="19.4" fill="#1a1a1a" stroke="#1a1a1a" stroke-width="0.45">36</text>
<text x="1355.1" y="310.2" font-size="19.4" fill="#1a1a1a" stroke="#1a1a1a" stroke-width="0.45">180</text>
<text x="1467.2" y="310.2" font-size="19.4" fill="#1a1a1a" stroke="#1a1a1a" stroke-width="0.45">260</text>
<text x="1582.1" y="310.2" font-size="19.4" fill="#1a1a1a" stroke="#1a1a1a" stroke-width="0.45">341</text>
<text x="1627.6" y="310.2" font-size="19.4" fill="#1a1a1a" stroke="#1a1a1a" stroke-width="0.45">373</text>
<text x="1830.7" y="310.2" font-size="19.4" fill="#1a1a1a" stroke="#1a1a1a" stroke-width="0.45">516</text>
<text x="1912.8" y="310.2" font-size="19.4" fill="#1a1a1a" stroke="#1a1a1a" stroke-width="0.45">574</text>
<text x="1261.7" y="315.5" font-size="19.4" text-anchor="middle" fill="#333" stroke="#333" stroke-width="0.45">BTB</text>
<text x="1535.7" y="315.4" font-size="19.4" text-anchor="middle" fill="#333" stroke="#333" stroke-width="0.45">ANK</text>
<text x="1739.8" y="315.4" font-size="19.4" text-anchor="middle" fill="#333" stroke="#333" stroke-width="0.45">SBC</text>
<text x="1054" y="340.3" font-size="21.5" fill="#1a1a1a" stroke="#1a1a1a" stroke-width="0.45">FL</text>
<text x="1100.5" y="403.6" font-size="26.6" fill="#1a1a1a" stroke="#1a1a1a" stroke-width="0.45">NPR4</text>
<rect x="1637.6" y="377.8" width="201.4" height="19.7" fill="url(#gOrange)"/>
<rect x="1637.6" y="377.8" width="201.4" height="19.7" fill="none" stroke="#1e1e1e" stroke-width="1.35"/>
<line x1="1637.6" y1="367" x2="1637.6" y2="377.8" stroke="#1e1e1e" stroke-width="1.3"/>
<line x1="1839" y1="367" x2="1839" y2="377.8" stroke="#1e1e1e" stroke-width="1.3"/>
<text x="1629.6" y="365" font-size="19.4" fill="#1a1a1a" stroke="#1a1a1a" stroke-width="0.45">373</text>
<text x="1830.7" y="365" font-size="19.4" fill="#1a1a1a" stroke="#1a1a1a" stroke-width="0.45">516</text>
<text x="1740.9" y="372" font-size="19.4" text-anchor="middle" fill="#333" stroke="#333" stroke-width="0.45">SBC</text>
<text x="1550.5" y="397.5" font-size="21.5" fill="#1a1a1a" stroke="#1a1a1a" stroke-width="0.45">T1</text>
<rect x="1611.5" y="433.8" width="25.5" height="20.2" fill="url(#gGray)"/>
<rect x="1637" y="433.8" width="202" height="20.2" fill="url(#gOrange)"/>
<rect x="1839" y="433.8" width="55" height="20.2" fill="url(#gGray)"/>
<rect x="1611.5" y="433.8" width="282.5" height="20.2" fill="none" stroke="#1e1e1e" stroke-width="1.35"/>
<line x1="1637" y1="433.8" x2="1637" y2="454" stroke="#1e1e1e" stroke-width="1.35"/>
<line x1="1839" y1="433.8" x2="1839" y2="454" stroke="#1e1e1e" stroke-width="1.35"/>
<line x1="1611.5" y1="423.6" x2="1611.5" y2="433.8" stroke="#1e1e1e" stroke-width="1.3"/>
<line x1="1637" y1="423.6" x2="1637" y2="433.8" stroke="#1e1e1e" stroke-width="1.3"/>
<line x1="1839" y1="423.6" x2="1839" y2="433.8" stroke="#1e1e1e" stroke-width="1.3"/>
<line x1="1894" y1="423.6" x2="1894" y2="433.8" stroke="#1e1e1e" stroke-width="1.3"/>
<text x="1597.8" y="421.3" font-size="19.4" fill="#1a1a1a" stroke="#1a1a1a" stroke-width="0.45">357</text>
<text x="1634.9" y="421.3" font-size="19.4" fill="#1a1a1a" stroke="#1a1a1a" stroke-width="0.45">373</text>
<text x="1830.7" y="421.3" font-size="19.4" fill="#1a1a1a" stroke="#1a1a1a" stroke-width="0.45">516</text>
<text x="1885.8" y="421.3" font-size="19.4" fill="#1a1a1a" stroke="#1a1a1a" stroke-width="0.45">551</text>
<text x="1741.5" y="428.5" font-size="19.4" text-anchor="middle" fill="#333" stroke="#333" stroke-width="0.45">SBC</text>
<text x="1550" y="453.5" font-size="21.5" fill="#1a1a1a" stroke="#1a1a1a" stroke-width="0.45">T2</text>
<rect x="1417.7" y="492.7" width="57.5" height="20" fill="url(#gGray)"/>
<rect x="1475.2" y="492.7" width="116.6" height="20" fill="url(#gBlue)"/>
<rect x="1591.8" y="492.7" width="45.8" height="20" fill="url(#gGray)"/>
<rect x="1637.6" y="492.7" width="201.4" height="20" fill="url(#gOrange)"/>
<rect x="1839" y="492.7" width="56" height="20" fill="url(#gGray)"/>
<rect x="1417.7" y="492.7" width="477.3" height="20" fill="none" stroke="#1e1e1e" stroke-width="1.35"/>
<line x1="1475.2" y1="492.7" x2="1475.2" y2="512.7" stroke="#1e1e1e" stroke-width="1.35"/>
<line x1="1591.8" y1="492.7" x2="1591.8" y2="512.7" stroke="#1e1e1e" stroke-width="1.35"/>
<line x1="1637.6" y1="492.7" x2="1637.6" y2="512.7" stroke="#1e1e1e" stroke-width="1.35"/>
<line x1="1839" y1="492.7" x2="1839" y2="512.7" stroke="#1e1e1e" stroke-width="1.35"/>
<line x1="1417.7" y1="482.5" x2="1417.7" y2="492.7" stroke="#1e1e1e" stroke-width="1.3"/>
<line x1="1475.2" y1="482.5" x2="1475.2" y2="492.7" stroke="#1e1e1e" stroke-width="1.3"/>
<line x1="1591.8" y1="482.5" x2="1591.8" y2="492.7" stroke="#1e1e1e" stroke-width="1.3"/>
<line x1="1637.6" y1="482.5" x2="1637.6" y2="492.7" stroke="#1e1e1e" stroke-width="1.3"/>
<line x1="1839" y1="482.5" x2="1839" y2="492.7" stroke="#1e1e1e" stroke-width="1.3"/>
<line x1="1895" y1="482.5" x2="1895" y2="492.7" stroke="#1e1e1e" stroke-width="1.3"/>
<text x="1409.5" y="480.2" font-size="19.4" fill="#1a1a1a" stroke="#1a1a1a" stroke-width="0.45">215</text>
<text x="1467.2" y="480.2" font-size="19.4" fill="#1a1a1a" stroke="#1a1a1a" stroke-width="0.45">260</text>
<text x="1578.3" y="480.2" font-size="19.4" fill="#1a1a1a" stroke="#1a1a1a" stroke-width="0.45">341</text>
<text x="1634.9" y="480.2" font-size="19.4" fill="#1a1a1a" stroke="#1a1a1a" stroke-width="0.45">373</text>
<text x="1830.7" y="480.2" font-size="19.4" fill="#1a1a1a" stroke="#1a1a1a" stroke-width="0.45">516</text>
<text x="1886.6" y="480.2" font-size="19.4" fill="#1a1a1a" stroke="#1a1a1a" stroke-width="0.45">551</text>
<text x="1539.2" y="487.4" font-size="19.4" text-anchor="middle" fill="#333" stroke="#333" stroke-width="0.45">ANK</text>
<text x="1741.5" y="487.4" font-size="19.4" text-anchor="middle" fill="#333" stroke="#333" stroke-width="0.45">SBC</text>
<text x="1379" y="509.5" font-size="21.5" fill="#1a1a1a" stroke="#1a1a1a" stroke-width="0.45">T3</text>
<text x="9" y="590.7" font-size="31" fill="#1a1a1a" stroke="#1a1a1a" stroke-width="0.45">e</text>
<line x1="76.9" y1="656.4" x2="76.9" y2="1035" stroke="#333" stroke-width="1.3"/>
<line x1="60.5" y1="1035" x2="76.9" y2="1035" stroke="#333" stroke-width="1.3"/>
<text x="57.6" y="1042.9" font-size="23.5" text-anchor="end" fill="#1a1a1a" stroke="#1a1a1a" stroke-width="0.45">0</text>
<line x1="60.5" y1="908.6" x2="76.9" y2="908.6" stroke="#333" stroke-width="1.3"/>
<text x="57.6" y="916.5" font-size="23.5" text-anchor="end" fill="#1a1a1a" stroke="#1a1a1a" stroke-width="0.45">20</text>
<line x1="60.5" y1="782.2" x2="76.9" y2="782.2" stroke="#333" stroke-width="1.3"/>
<text x="57.6" y="790.1" font-size="23.5" text-anchor="end" fill="#1a1a1a" stroke="#1a1a1a" stroke-width="0.45">40</text>
<line x1="60.5" y1="655.8" x2="76.9" y2="655.8" stroke="#333" stroke-width="1.3"/>
<text x="57.6" y="663.7" font-size="23.5" text-anchor="end" fill="#1a1a1a" stroke="#1a1a1a" stroke-width="0.45">60</text>
<line x1="60.5" y1="1035" x2="523.6" y2="1035" stroke="#333" stroke-width="1.3"/>
<line x1="149.3" y1="1035" x2="149.3" y2="1051.4" stroke="#333" stroke-width="1.3"/>
<line x1="299.5" y1="1035" x2="299.5" y2="1051.4" stroke="#333" stroke-width="1.3"/>
<line x1="450.5" y1="1035" x2="450.5" y2="1051.4" stroke="#333" stroke-width="1.3"/>
<text x="280" y="635.1" font-size="23" text-anchor="middle" fill="#1a1a1a" stroke="#1a1a1a" stroke-width="0.45">NPR1-T2:NPR4-T2:NLuc=2:1:3</text>
<rect x="252.5" y="658.3" width="46.1" height="9.4" fill="#bdd7ee"/>
<rect x="252.5" y="687.6" width="46.1" height="9.3" fill="#f2742b"/>
<rect x="252.5" y="718.4" width="46.1" height="9.4" fill="#4bb749"/>
<text x="324.5" y="670.9" font-size="18.4" fill="#1a1a1a" stroke="#1a1a1a" stroke-width="0.45">Non-induced</text>
<text x="324.5" y="699.7" font-size="18.4" fill="#1a1a1a" stroke="#1a1a1a" stroke-width="0.45">ASA (200 μM)</text>
<text x="324.5" y="731.1" font-size="18.4" fill="#1a1a1a" stroke="#1a1a1a" stroke-width="0.45">SA (200 μM)</text>
<rect x="89.3" y="1002.77" width="31.7" height="32.23" fill="#bdd7ee"/>
<rect x="133.6" y="796.74" width="31.7" height="238.26" fill="#f2742b"/>
<rect x="177.4" y="799.9" width="31.7" height="235.1" fill="#4bb749"/>
<rect x="241.7" y="1028.68" width="31.7" height="6.32" fill="#bdd7ee"/>
<rect x="284.2" y="1002.14" width="31.7" height="32.86" fill="#f2742b"/>
<rect x="328.3" y="1007.82" width="31.7" height="27.18" fill="#4bb749"/>
<rect x="391.3" y="995.5" width="31.7" height="39.5" fill="#bdd7ee"/>
<rect x="435" y="978.12" width="31.7" height="56.88" fill="#f2742b"/>
<rect x="479.2" y="967.38" width="31.7" height="67.62" fill="#4bb749"/>
<line x1="97.3" y1="997.2" x2="113.7" y2="997.2" stroke="#1a1a1a" stroke-width="1.4"/>
<line x1="105.5" y1="997.2" x2="105.5" y2="1002.7" stroke="#1a1a1a" stroke-width="1.4"/>
<line x1="139" y1="775" x2="160" y2="775" stroke="#1a1a1a" stroke-width="1.4"/>
<line x1="149.5" y1="775" x2="149.5" y2="797" stroke="#1a1a1a" stroke-width="1.4"/>
<line x1="182.8" y1="766" x2="203.8" y2="766" stroke="#1a1a1a" stroke-width="1.4"/>
<line x1="193.3" y1="766" x2="193.3" y2="800" stroke="#1a1a1a" stroke-width="1.4"/>
<line x1="292" y1="997.6" x2="311" y2="997.6" stroke="#1a1a1a" stroke-width="1.4"/>
<line x1="396.3" y1="991.6" x2="417.3" y2="991.6" stroke="#1a1a1a" stroke-width="1.4"/>
<line x1="441.5" y1="971.7" x2="460.5" y2="971.7" stroke="#1a1a1a" stroke-width="1.4"/>
<line x1="487" y1="957.1" x2="502.2" y2="957.1" stroke="#1a1a1a" stroke-width="1.4"/>
<line x1="494.6" y1="957.1" x2="494.6" y2="967.3" stroke="#1a1a1a" stroke-width="1.4"/>
<circle cx="94.2" cy="1009" r="4.1" fill="#1a1a1a"/>
<circle cx="105.1" cy="1001.3" r="4.1" fill="#1a1a1a"/>
<circle cx="116.6" cy="995.8" r="4.1" fill="#1a1a1a"/>
<circle cx="116.6" cy="1004.9" r="4.1" fill="#1a1a1a"/>
<circle cx="137.7" cy="779.1" r="4.1" fill="#1a1a1a"/>
<circle cx="160.4" cy="779.1" r="4.1" fill="#1a1a1a"/>
<circle cx="148.9" cy="806.5" r="4.1" fill="#1a1a1a"/>
<circle cx="148.9" cy="823.7" r="4.1" fill="#1a1a1a"/>
<circle cx="181.7" cy="774.2" r="4.1" fill="#1a1a1a"/>
<circle cx="204.2" cy="768.2" r="4.1" fill="#1a1a1a"/>
<circle cx="192.7" cy="820.7" r="4.1" fill="#1a1a1a"/>
<circle cx="192.7" cy="837.7" r="4.1" fill="#1a1a1a"/>
<circle cx="244.3" cy="1030.5" r="4.1" fill="#1a1a1a"/>
<circle cx="252.2" cy="1027.6" r="4.1" fill="#1a1a1a"/>
<circle cx="259.7" cy="1028.6" r="4.1" fill="#1a1a1a"/>
<circle cx="267.7" cy="1027.8" r="4.1" fill="#1a1a1a"/>
<circle cx="288.5" cy="1005.9" r="4.1" fill="#1a1a1a"/>
<circle cx="299.6" cy="1003.2" r="4.1" fill="#1a1a1a"/>
<circle cx="311.4" cy="995.5" r="4.1" fill="#1a1a1a"/>
<circle cx="311.4" cy="1005.1" r="4.1" fill="#1a1a1a"/>
<circle cx="332.5" cy="1008.6" r="4.1" fill="#1a1a1a"/>
<circle cx="340.1" cy="1006.2" r="4.1" fill="#1a1a1a"/>
<circle cx="347.6" cy="1008.6" r="4.1" fill="#1a1a1a"/>
<circle cx="355.5" cy="1007.5" r="4.1" fill="#1a1a1a"/>
<circle cx="395.3" cy="992.4" r="4.1" fill="#1a1a1a"/>
<circle cx="395.3" cy="1001.1" r="4.1" fill="#1a1a1a"/>
<circle cx="406.4" cy="992.8" r="4.1" fill="#1a1a1a"/>
<circle cx="418" cy="994.7" r="4.1" fill="#1a1a1a"/>
<circle cx="439.4" cy="982.8" r="4.1" fill="#1a1a1a"/>
<circle cx="450.6" cy="975.7" r="4.1" fill="#1a1a1a"/>
<circle cx="462.3" cy="970.9" r="4.1" fill="#1a1a1a"/>
<circle cx="462.3" cy="982" r="4.1" fill="#1a1a1a"/>
<circle cx="479.2" cy="954.7" r="4.1" fill="#1a1a1a"/>
<circle cx="483.5" cy="964.9" r="4.1" fill="#1a1a1a"/>
<circle cx="479.2" cy="979.6" r="4.1" fill="#1a1a1a"/>
<line x1="105.9" y1="694.5" x2="188.1" y2="694.5" stroke="#1a1a1a" stroke-width="1.4"/>
<text x="141" y="667" font-size="18.4" text-anchor="middle" fill="#1a1a1a" stroke="#1a1a1a" stroke-width="0.45">7.3x</text>
<text x="144.2" y="688.1" font-size="18.4" text-anchor="middle" fill="#1a1a1a" stroke="#1a1a1a" stroke-width="0.45">&lt;0.0001</text>
<line x1="105.9" y1="764.4" x2="149.9" y2="764.4" stroke="#1a1a1a" stroke-width="1.4"/>
<text x="129.2" y="737.9" font-size="18.4" text-anchor="middle" fill="#1a1a1a" stroke="#1a1a1a" stroke-width="0.45">7.4x</text>
<text x="126.3" y="758" font-size="18.4" text-anchor="middle" fill="#1a1a1a" stroke="#1a1a1a" stroke-width="0.45">&lt;0.0001</text>
<line x1="257.3" y1="929.1" x2="338.9" y2="929.1" stroke="#1a1a1a" stroke-width="1.4"/>
<text x="301.1" y="899.4" font-size="18.4" text-anchor="middle" fill="#1a1a1a" stroke="#1a1a1a" stroke-width="0.45">4.5x</text>
<text x="299.5" y="919.6" font-size="18.4" text-anchor="middle" fill="#1a1a1a" stroke="#1a1a1a" stroke-width="0.45">&lt;0.0001</text>
<line x1="257.3" y1="983.9" x2="300.4" y2="983.9" stroke="#1a1a1a" stroke-width="1.4"/>
<text x="284" y="952.3" font-size="18.4" text-anchor="middle" fill="#1a1a1a" stroke="#1a1a1a" stroke-width="0.45">5.3x</text>
<text x="284.8" y="976.2" font-size="18.4" text-anchor="middle" fill="#1a1a1a" stroke="#1a1a1a" stroke-width="0.45">&lt;0.0001</text>
<line x1="409.2" y1="901.3" x2="490.6" y2="901.3" stroke="#1a1a1a" stroke-width="1.4"/>
<text x="447.6" y="874.8" font-size="18.4" text-anchor="middle" fill="#1a1a1a" stroke="#1a1a1a" stroke-width="0.45">1.4x</text>
<text x="449.5" y="895.7" font-size="18.4" text-anchor="middle" fill="#1a1a1a" stroke="#1a1a1a" stroke-width="0.45">0.002</text>
<line x1="409.2" y1="956.3" x2="451.7" y2="956.3" stroke="#1a1a1a" stroke-width="1.4"/>
<text x="429.3" y="924.8" font-size="18.4" text-anchor="middle" fill="#1a1a1a" stroke="#1a1a1a" stroke-width="0.45">1.7x</text>
<text x="432.8" y="946.3" font-size="18.4" text-anchor="middle" fill="#1a1a1a" stroke="#1a1a1a" stroke-width="0.45">0.002</text>
<text x="91.2" y="1075" font-size="24.2" fill="#1a1a1a" stroke="#1a1a1a" stroke-width="0.45">NPR4-T2-</text>
<text x="91.2" y="1103.9" font-size="24.2" fill="#1a1a1a" stroke="#1a1a1a" stroke-width="0.45">VanR-VP16</text>
<text x="242.5" y="1075" font-size="24.2" fill="#1a1a1a" stroke="#1a1a1a" stroke-width="0.45">NPR4-T2-</text>
<text x="242.5" y="1103.9" font-size="24.2" fill="#1a1a1a" stroke="#1a1a1a" stroke-width="0.45">VanR-VP64</text>
<text x="398.1" y="1075" font-size="24.2" fill="#1a1a1a" stroke="#1a1a1a" stroke-width="0.45">NPR4-T2-</text>
<text x="398.1" y="1103.9" font-size="24.2" fill="#1a1a1a" stroke="#1a1a1a" stroke-width="0.45">VanR-VPR</text>
<text transform="translate(22,850.5) rotate(-90)" font-size="23.7" fill="#1a1a1a" text-anchor="middle" letter-spacing="0">RLU(x10<tspan font-size="15.17" dy="-9.6">4</tspan><tspan dy="9.6">)</tspan></text>
<text x="535" y="592.8" font-size="31" fill="#1a1a1a" stroke="#1a1a1a" stroke-width="0.45">f</text>
<rect x="620.8" y="585.2" width="43.5" height="9" fill="#bdd7ee"/>
<rect x="789" y="584.8" width="43.5" height="9" fill="#f2742b"/>
<rect x="620.8" y="611.4" width="43.5" height="9" fill="#4bb749"/>
<text x="677.5" y="596.7" font-size="18.6" fill="#1a1a1a" stroke="#1a1a1a" stroke-width="0.45">Non-induced</text>
<text x="845" y="596.5" font-size="18.6" fill="#1a1a1a" stroke="#1a1a1a" stroke-width="0.45">ASA (200 μM)</text>
<text x="677.5" y="622.7" font-size="18.6" fill="#1a1a1a" stroke="#1a1a1a" stroke-width="0.45">SA (200 μM)</text>
<line x1="610.4" y1="631.6" x2="610.4" y2="998.4" stroke="#333" stroke-width="1.3"/>
<line x1="594.9" y1="998.4" x2="610.4" y2="998.4" stroke="#333" stroke-width="1.3"/>
<text x="593.8" y="1005.8" font-size="23" text-anchor="end" fill="#1a1a1a" stroke="#1a1a1a" stroke-width="0.45">0</text>
<line x1="594.9" y1="906.7" x2="610.4" y2="906.7" stroke="#333" stroke-width="1.3"/>
<text x="593.8" y="914.1" font-size="23" text-anchor="end" fill="#1a1a1a" stroke="#1a1a1a" stroke-width="0.45">20</text>
<line x1="594.9" y1="815" x2="610.4" y2="815" stroke="#333" stroke-width="1.3"/>
<text x="593.8" y="822.4" font-size="23" text-anchor="end" fill="#1a1a1a" stroke="#1a1a1a" stroke-width="0.45">40</text>
<line x1="594.9" y1="723.3" x2="610.4" y2="723.3" stroke="#333" stroke-width="1.3"/>
<text x="593.8" y="730.7" font-size="23" text-anchor="end" fill="#1a1a1a" stroke="#1a1a1a" stroke-width="0.45">60</text>
<line x1="594.9" y1="631.6" x2="610.4" y2="631.6" stroke="#333" stroke-width="1.3"/>
<text x="593.8" y="639" font-size="23" text-anchor="end" fill="#1a1a1a" stroke="#1a1a1a" stroke-width="0.45">80</text>
<line x1="594.9" y1="998.4" x2="989.6" y2="998.4" stroke="#333" stroke-width="1.3"/>
<line x1="640.6" y1="998.4" x2="640.6" y2="1014.4" stroke="#333" stroke-width="1.3"/>
<line x1="704.5" y1="998.4" x2="704.5" y2="1014.4" stroke="#333" stroke-width="1.3"/>
<line x1="767.9" y1="998.4" x2="767.9" y2="1014.4" stroke="#333" stroke-width="1.3"/>
<line x1="832.2" y1="998.4" x2="832.2" y2="1014.4" stroke="#333" stroke-width="1.3"/>
<line x1="895.4" y1="998.4" x2="895.4" y2="1014.4" stroke="#333" stroke-width="1.3"/>
<line x1="932.3" y1="998.4" x2="932.3" y2="1014.4" stroke="#333" stroke-width="1.3"/>
<rect x="615" y="992.21" width="14.6" height="6.19" fill="#bdd7ee"/>
<rect x="633.1" y="949.34" width="14.6" height="49.06" fill="#f2742b"/>
<rect x="652.3" y="960.34" width="14.6" height="38.06" fill="#4bb749"/>
<rect x="678.4" y="987.4" width="14.6" height="11" fill="#bdd7ee"/>
<rect x="697.4" y="916.33" width="14.6" height="82.07" fill="#f2742b"/>
<rect x="716.3" y="916.79" width="14.6" height="81.61" fill="#4bb749"/>
<rect x="742.4" y="971.35" width="14.6" height="27.05" fill="#bdd7ee"/>
<rect x="761.1" y="812.25" width="14.6" height="186.15" fill="#f2742b"/>
<rect x="780.1" y="839.76" width="14.6" height="158.64" fill="#4bb749"/>
<rect x="806.1" y="969.06" width="14.6" height="29.34" fill="#bdd7ee"/>
<rect x="825.1" y="753.56" width="14.6" height="244.84" fill="#f2742b"/>
<rect x="843.7" y="747.6" width="14.6" height="250.8" fill="#4bb749"/>
<rect x="869.8" y="954.38" width="14.6" height="44.02" fill="#bdd7ee"/>
<rect x="888.8" y="721.47" width="14.6" height="276.93" fill="#f2742b"/>
<rect x="907.4" y="737.06" width="14.6" height="261.34" fill="#4bb749"/>
<rect x="934.1" y="949.8" width="14.6" height="48.6" fill="#bdd7ee"/>
<rect x="952.4" y="738.89" width="14.6" height="259.51" fill="#f2742b"/>
<rect x="971" y="747.14" width="14.6" height="251.26" fill="#4bb749"/>
<line x1="640.4" y1="941.7" x2="640.4" y2="956.5" stroke="#1a1a1a" stroke-width="1.25"/>
<line x1="636.5" y1="941.7" x2="644.3" y2="941.7" stroke="#1a1a1a" stroke-width="1.25"/>
<line x1="636.5" y1="956.5" x2="644.3" y2="956.5" stroke="#1a1a1a" stroke-width="1.25"/>
<line x1="685.4" y1="983.4" x2="685.4" y2="989.6" stroke="#1a1a1a" stroke-width="1.25"/>
<line x1="681.5" y1="983.4" x2="689.3" y2="983.4" stroke="#1a1a1a" stroke-width="1.25"/>
<line x1="681.5" y1="989.6" x2="689.3" y2="989.6" stroke="#1a1a1a" stroke-width="1.25"/>
<line x1="704.2" y1="910" x2="704.2" y2="922.3" stroke="#1a1a1a" stroke-width="1.25"/>
<line x1="700.3" y1="910" x2="708.1" y2="910" stroke="#1a1a1a" stroke-width="1.25"/>
<line x1="700.3" y1="922.3" x2="708.1" y2="922.3" stroke="#1a1a1a" stroke-width="1.25"/>
<line x1="723.6" y1="902.4" x2="723.6" y2="931.1" stroke="#1a1a1a" stroke-width="1.25"/>
<line x1="719.7" y1="902.4" x2="727.5" y2="902.4" stroke="#1a1a1a" stroke-width="1.25"/>
<line x1="719.7" y1="931.1" x2="727.5" y2="931.1" stroke="#1a1a1a" stroke-width="1.25"/>
<line x1="749.6" y1="966.4" x2="749.6" y2="977.4" stroke="#1a1a1a" stroke-width="1.25"/>
<line x1="745.7" y1="966.4" x2="753.5" y2="966.4" stroke="#1a1a1a" stroke-width="1.25"/>
<line x1="745.7" y1="977.4" x2="753.5" y2="977.4" stroke="#1a1a1a" stroke-width="1.25"/>
<line x1="768.2" y1="798" x2="768.2" y2="826.9" stroke="#1a1a1a" stroke-width="1.25"/>
<line x1="764.3" y1="798" x2="772.1" y2="798" stroke="#1a1a1a" stroke-width="1.25"/>
<line x1="764.3" y1="826.9" x2="772.1" y2="826.9" stroke="#1a1a1a" stroke-width="1.25"/>
<line x1="787.2" y1="795.3" x2="787.2" y2="884.1" stroke="#1a1a1a" stroke-width="1.25"/>
<line x1="783.3" y1="795.3" x2="791.1" y2="795.3" stroke="#1a1a1a" stroke-width="1.25"/>
<line x1="783.3" y1="884.1" x2="791.1" y2="884.1" stroke="#1a1a1a" stroke-width="1.25"/>
<line x1="813.5" y1="961.7" x2="813.5" y2="972" stroke="#1a1a1a" stroke-width="1.25"/>
<line x1="809.6" y1="961.7" x2="817.4" y2="961.7" stroke="#1a1a1a" stroke-width="1.25"/>
<line x1="809.6" y1="972" x2="817.4" y2="972" stroke="#1a1a1a" stroke-width="1.25"/>
<line x1="832.3" y1="738.6" x2="832.3" y2="769" stroke="#1a1a1a" stroke-width="1.25"/>
<line x1="828.4" y1="738.6" x2="836.2" y2="738.6" stroke="#1a1a1a" stroke-width="1.25"/>
<line x1="828.4" y1="769" x2="836.2" y2="769" stroke="#1a1a1a" stroke-width="1.25"/>
<line x1="850.9" y1="693.9" x2="850.9" y2="801.7" stroke="#1a1a1a" stroke-width="1.25"/>
<line x1="847" y1="693.9" x2="854.8" y2="693.9" stroke="#1a1a1a" stroke-width="1.25"/>
<line x1="847" y1="801.7" x2="854.8" y2="801.7" stroke="#1a1a1a" stroke-width="1.25"/>
<line x1="877" y1="947" x2="877" y2="963.3" stroke="#1a1a1a" stroke-width="1.25"/>
<line x1="873.1" y1="947" x2="880.9" y2="947" stroke="#1a1a1a" stroke-width="1.25"/>
<line x1="873.1" y1="963.3" x2="880.9" y2="963.3" stroke="#1a1a1a" stroke-width="1.25"/>
<line x1="895.9" y1="709.6" x2="895.9" y2="733" stroke="#1a1a1a" stroke-width="1.25"/>
<line x1="892" y1="709.6" x2="899.8" y2="709.6" stroke="#1a1a1a" stroke-width="1.25"/>
<line x1="892" y1="733" x2="899.8" y2="733" stroke="#1a1a1a" stroke-width="1.25"/>
<line x1="914.5" y1="682.5" x2="914.5" y2="791.2" stroke="#1a1a1a" stroke-width="1.25"/>
<line x1="910.6" y1="682.5" x2="918.4" y2="682.5" stroke="#1a1a1a" stroke-width="1.25"/>
<line x1="910.6" y1="791.2" x2="918.4" y2="791.2" stroke="#1a1a1a" stroke-width="1.25"/>
<line x1="940.7" y1="939.5" x2="940.7" y2="958.4" stroke="#1a1a1a" stroke-width="1.25"/>
<line x1="936.8" y1="939.5" x2="944.6" y2="939.5" stroke="#1a1a1a" stroke-width="1.25"/>
<line x1="936.8" y1="958.4" x2="944.6" y2="958.4" stroke="#1a1a1a" stroke-width="1.25"/>
<line x1="959.6" y1="729.2" x2="959.6" y2="748.8" stroke="#1a1a1a" stroke-width="1.25"/>
<line x1="955.7" y1="729.2" x2="963.5" y2="729.2" stroke="#1a1a1a" stroke-width="1.25"/>
<line x1="955.7" y1="748.8" x2="963.5" y2="748.8" stroke="#1a1a1a" stroke-width="1.25"/>
<line x1="978.6" y1="682.5" x2="978.6" y2="810.8" stroke="#1a1a1a" stroke-width="1.25"/>
<line x1="974.7" y1="682.5" x2="982.5" y2="682.5" stroke="#1a1a1a" stroke-width="1.25"/>
<line x1="974.7" y1="810.8" x2="982.5" y2="810.8" stroke="#1a1a1a" stroke-width="1.25"/>
<circle cx="616.8" cy="993.6" r="2.2" fill="#1a1a1a"/>
<circle cx="620.5" cy="993.6" r="2.2" fill="#1a1a1a"/>
<circle cx="624" cy="993.6" r="2.2" fill="#1a1a1a"/>
<circle cx="627.5" cy="993.6" r="2.2" fill="#1a1a1a"/>
<circle cx="635.3" cy="944.5" r="2.2" fill="#1a1a1a"/>
<circle cx="645.3" cy="941.5" r="2.2" fill="#1a1a1a"/>
<circle cx="635.3" cy="955.8" r="2.2" fill="#1a1a1a"/>
<circle cx="645.3" cy="954.3" r="2.2" fill="#1a1a1a"/>
<circle cx="655" cy="959.8" r="2.2" fill="#1a1a1a"/>
<circle cx="658.5" cy="959.3" r="2.2" fill="#1a1a1a"/>
<circle cx="662" cy="959.3" r="2.2" fill="#1a1a1a"/>
<circle cx="665" cy="959.8" r="2.2" fill="#1a1a1a"/>
<circle cx="680.1" cy="990.2" r="2.2" fill="#1a1a1a"/>
<circle cx="685" cy="984" r="2.2" fill="#1a1a1a"/>
<circle cx="690.5" cy="986.7" r="2.2" fill="#1a1a1a"/>
<circle cx="681" cy="985" r="2.2" fill="#1a1a1a"/>
<circle cx="699.3" cy="912.3" r="2.2" fill="#1a1a1a"/>
<circle cx="709.3" cy="910.1" r="2.2" fill="#1a1a1a"/>
<circle cx="704.2" cy="917.8" r="2.2" fill="#1a1a1a"/>
<circle cx="704.2" cy="924" r="2.2" fill="#1a1a1a"/>
<circle cx="723.6" cy="907.5" r="2.2" fill="#1a1a1a"/>
<circle cx="723.6" cy="921.1" r="2.2" fill="#1a1a1a"/>
<circle cx="723.6" cy="936.2" r="2.2" fill="#1a1a1a"/>
<circle cx="723.6" cy="903" r="2.2" fill="#1a1a1a"/>
<circle cx="744.6" cy="968.6" r="2.2" fill="#1a1a1a"/>
<circle cx="754.5" cy="967.5" r="2.2" fill="#1a1a1a"/>
<circle cx="754.5" cy="972.4" r="2.2" fill="#1a1a1a"/>
<circle cx="750.1" cy="978.5" r="2.2" fill="#1a1a1a"/>
<circle cx="768.2" cy="804.2" r="2.2" fill="#1a1a1a"/>
<circle cx="768.2" cy="815.8" r="2.2" fill="#1a1a1a"/>
<circle cx="768.2" cy="831.3" r="2.2" fill="#1a1a1a"/>
<circle cx="768.2" cy="798.6" r="2.2" fill="#1a1a1a"/>
<circle cx="787.2" cy="825.6" r="2.2" fill="#1a1a1a"/>
<circle cx="787.2" cy="836.2" r="2.2" fill="#1a1a1a"/>
<circle cx="787.2" cy="900.8" r="2.2" fill="#1a1a1a"/>
<circle cx="787.2" cy="796" r="2.2" fill="#1a1a1a"/>
<circle cx="812.7" cy="964.3" r="2.2" fill="#1a1a1a"/>
<circle cx="812.7" cy="976.4" r="2.2" fill="#1a1a1a"/>
<circle cx="809" cy="964.5" r="2.2" fill="#1a1a1a"/>
<circle cx="817" cy="963.3" r="2.2" fill="#1a1a1a"/>
<circle cx="832.3" cy="741" r="2.2" fill="#1a1a1a"/>
<circle cx="832.3" cy="746" r="2.2" fill="#1a1a1a"/>
<circle cx="832.3" cy="752.5" r="2.2" fill="#1a1a1a"/>
<circle cx="832.3" cy="774.6" r="2.2" fill="#1a1a1a"/>
<circle cx="850.9" cy="711.2" r="2.2" fill="#1a1a1a"/>
<circle cx="850.9" cy="717.7" r="2.2" fill="#1a1a1a"/>
<circle cx="850.9" cy="735.4" r="2.2" fill="#1a1a1a"/>
<circle cx="850.9" cy="826.8" r="2.2" fill="#1a1a1a"/>
<circle cx="871.5" cy="953" r="2.2" fill="#1a1a1a"/>
<circle cx="877" cy="948.6" r="2.2" fill="#1a1a1a"/>
<circle cx="882.5" cy="955.2" r="2.2" fill="#1a1a1a"/>
<circle cx="877" cy="965.8" r="2.2" fill="#1a1a1a"/>
<circle cx="895.9" cy="703.7" r="2.2" fill="#1a1a1a"/>
<circle cx="891" cy="724.3" r="2.2" fill="#1a1a1a"/>
<circle cx="900.8" cy="726.6" r="2.2" fill="#1a1a1a"/>
<circle cx="895.9" cy="733" r="2.2" fill="#1a1a1a"/>
<circle cx="914.5" cy="672.7" r="2.2" fill="#1a1a1a"/>
<circle cx="914.5" cy="729.8" r="2.2" fill="#1a1a1a"/>
<circle cx="914.5" cy="741.2" r="2.2" fill="#1a1a1a"/>
<circle cx="914.5" cy="804" r="2.2" fill="#1a1a1a"/>
<circle cx="936" cy="947" r="2.2" fill="#1a1a1a"/>
<circle cx="946" cy="948" r="2.2" fill="#1a1a1a"/>
<circle cx="940.7" cy="963.3" r="2.2" fill="#1a1a1a"/>
<circle cx="951.5" cy="714.5" r="2.2" fill="#1a1a1a"/>
<circle cx="954.7" cy="738" r="2.2" fill="#1a1a1a"/>
<circle cx="951.5" cy="796.8" r="2.2" fill="#1a1a1a"/>
<circle cx="951.5" cy="803.3" r="2.2" fill="#1a1a1a"/>
<circle cx="932.8" cy="726.5" r="2.2" fill="#1a1a1a"/>
<circle cx="938.4" cy="742.2" r="2.2" fill="#1a1a1a"/>
<circle cx="932.8" cy="748.8" r="2.2" fill="#1a1a1a"/>
<line x1="623.2" y1="899.7" x2="661.4" y2="899.7" stroke="#1a1a1a" stroke-width="1.4"/>
<text x="626.5" y="888" font-size="18.6" fill="#1a1a1a" stroke="#1a1a1a" stroke-width="0.45">7.5x</text>
<line x1="623.2" y1="930" x2="641.5" y2="930" stroke="#1a1a1a" stroke-width="1.4"/>
<text x="623.2" y="921.8" font-size="18.6" fill="#1a1a1a" stroke="#1a1a1a" stroke-width="0.45">9.5x</text>
<line x1="686.1" y1="866" x2="724" y2="866" stroke="#1a1a1a" stroke-width="1.4"/>
<text x="689" y="850.5" font-size="18.6" fill="#1a1a1a" stroke="#1a1a1a" stroke-width="0.45">6.5x</text>
<line x1="686.1" y1="895.8" x2="704.4" y2="895.8" stroke="#1a1a1a" stroke-width="1.4"/>
<text x="686.1" y="888" font-size="18.6" fill="#1a1a1a" stroke="#1a1a1a" stroke-width="0.45">6.5x</text>
<line x1="751.7" y1="751.2" x2="790.6" y2="751.2" stroke="#1a1a1a" stroke-width="1.4"/>
<text x="753.7" y="739.6" font-size="18.6" fill="#1a1a1a" stroke="#1a1a1a" stroke-width="0.45">5.8x</text>
<line x1="751.9" y1="782.5" x2="770.6" y2="782.5" stroke="#1a1a1a" stroke-width="1.4"/>
<text x="751.2" y="771" font-size="18.6" fill="#1a1a1a" stroke="#1a1a1a" stroke-width="0.45">6.8x</text>
<line x1="810" y1="675.3" x2="847.9" y2="675.3" stroke="#1a1a1a" stroke-width="1.4"/>
<text x="811" y="662.5" font-size="18.6" fill="#1a1a1a" stroke="#1a1a1a" stroke-width="0.45">8.4x</text>
<line x1="810" y1="706.3" x2="829" y2="706.3" stroke="#1a1a1a" stroke-width="1.4"/>
<text x="807.8" y="696.2" font-size="18.6" fill="#1a1a1a" stroke="#1a1a1a" stroke-width="0.45">8.2x</text>
<line x1="875.4" y1="649.9" x2="913.5" y2="649.9" stroke="#1a1a1a" stroke-width="1.4"/>
<text x="874.8" y="634" font-size="18.6" fill="#1a1a1a" stroke="#1a1a1a" stroke-width="0.45">6.0x</text>
<line x1="875.4" y1="680" x2="894.3" y2="680" stroke="#1a1a1a" stroke-width="1.4"/>
<text x="871.4" y="667.6" font-size="18.6" fill="#1a1a1a" stroke="#1a1a1a" stroke-width="0.45">6.3x</text>
<line x1="939.4" y1="658.5" x2="977.8" y2="658.5" stroke="#1a1a1a" stroke-width="1.4"/>
<text x="939.6" y="642.2" font-size="18.6" fill="#1a1a1a" stroke="#1a1a1a" stroke-width="0.45">5.1x</text>
<line x1="939.4" y1="689.1" x2="958.5" y2="689.1" stroke="#1a1a1a" stroke-width="1.4"/>
<text x="936.8" y="676" font-size="18.6" fill="#1a1a1a" stroke="#1a1a1a" stroke-width="0.45">5.3x</text>
<text transform="translate(563,827.2) rotate(-90)" font-size="23" fill="#1a1a1a" text-anchor="middle" letter-spacing="-0.55">RLU (x10<tspan font-size="11.5" dy="-8.5">4</tspan><tspan dy="8.5">)</tspan></text>
<text x="561.3" y="1042.6" font-size="21.5" fill="#1a1a1a" stroke="#1a1a1a" stroke-width="0.45">NPR1</text>
<text x="561.3" y="1075.2" font-size="21.5" fill="#1a1a1a" stroke="#1a1a1a" stroke-width="0.45">NPR4</text>
<text x="561.3" y="1105" font-size="21.5" fill="#1a1a1a" stroke="#1a1a1a" stroke-width="0.45">NLuc</text>
<rect x="628.3" y="1027.9" width="352.3" height="15.8" fill="#92c4ea"/>
<text x="803.55" y="1042.5" font-size="22.8" text-anchor="middle" fill="#1a1a1a" stroke="#1a1a1a" stroke-width="0.45">20</text>
<path d="M629.9,1075.2 L982,1057.7 L982,1075.2 Z" fill="#80cc9b" stroke="none" stroke-width="1"/>
<text x="648.2" y="1074.8" font-size="22.8" text-anchor="middle" fill="#1a1a1a" stroke="#1a1a1a" stroke-width="0.45">2.5</text>
<text x="712.2" y="1074.8" font-size="22.8" text-anchor="middle" fill="#1a1a1a" stroke="#1a1a1a" stroke-width="0.45">5</text>
<text x="776" y="1074.8" font-size="22.8" text-anchor="middle" fill="#1a1a1a" stroke="#1a1a1a" stroke-width="0.45">7.5</text>
<text x="840" y="1074.8" font-size="22.8" text-anchor="middle" fill="#1a1a1a" stroke="#1a1a1a" stroke-width="0.45">10</text>
<text x="903.8" y="1074.8" font-size="22.8" text-anchor="middle" fill="#1a1a1a" stroke="#1a1a1a" stroke-width="0.45">12.5</text>
<text x="967.2" y="1074.8" font-size="22.8" text-anchor="middle" fill="#1a1a1a" stroke="#1a1a1a" stroke-width="0.45">15</text>
<rect x="628.3" y="1091.3" width="352.3" height="15.1" fill="#f28174"/>
<text x="803.55" y="1105.5" font-size="22.8" text-anchor="middle" fill="#1a1a1a" stroke="#1a1a1a" stroke-width="0.45">30</text>
<text x="804.4" y="1126.8" font-size="22.8" text-anchor="middle" fill="#1a1a1a" stroke="#1a1a1a" stroke-width="0.45">(ng/well)</text>
<text x="1016.5" y="582.6" font-size="31" fill="#1a1a1a" stroke="#1a1a1a" stroke-width="0.45">g</text>
<rect x="1097.2" y="588.1" width="43.5" height="9" fill="#bdd7ee"/>
<rect x="1265" y="587.7" width="43.5" height="9" fill="#f2742b"/>
<rect x="1097.2" y="614.4" width="43.5" height="9" fill="#4bb749"/>
<text x="1150.3" y="599.6" font-size="18.6" fill="#1a1a1a" stroke="#1a1a1a" stroke-width="0.45">Non-induced</text>
<text x="1321.5" y="599.4" font-size="18.6" fill="#1a1a1a" stroke="#1a1a1a" stroke-width="0.45">ASA (200 μM)</text>
<text x="1153.9" y="626" font-size="18.6" fill="#1a1a1a" stroke="#1a1a1a" stroke-width="0.45">SA (200 μM)</text>
<line x1="1086.8" y1="635.98" x2="1086.8" y2="1001.1" stroke="#333" stroke-width="1.3"/>
<line x1="1071.3" y1="1001.1" x2="1086.8" y2="1001.1" stroke="#333" stroke-width="1.3"/>
<text x="1068.4" y="1008.5" font-size="23" text-anchor="end" fill="#1a1a1a" stroke="#1a1a1a" stroke-width="0.45">0</text>
<line x1="1071.3" y1="909.82" x2="1086.8" y2="909.82" stroke="#333" stroke-width="1.3"/>
<text x="1068.4" y="917.22" font-size="23" text-anchor="end" fill="#1a1a1a" stroke="#1a1a1a" stroke-width="0.45">20</text>
<line x1="1071.3" y1="818.54" x2="1086.8" y2="818.54" stroke="#333" stroke-width="1.3"/>
<text x="1068.4" y="825.94" font-size="23" text-anchor="end" fill="#1a1a1a" stroke="#1a1a1a" stroke-width="0.45">40</text>
<line x1="1071.3" y1="727.26" x2="1086.8" y2="727.26" stroke="#333" stroke-width="1.3"/>
<text x="1068.4" y="734.66" font-size="23" text-anchor="end" fill="#1a1a1a" stroke="#1a1a1a" stroke-width="0.45">60</text>
<line x1="1071.3" y1="635.98" x2="1086.8" y2="635.98" stroke="#333" stroke-width="1.3"/>
<text x="1068.4" y="643.38" font-size="23" text-anchor="end" fill="#1a1a1a" stroke="#1a1a1a" stroke-width="0.45">80</text>
<line x1="1071.3" y1="1001.1" x2="1466.7" y2="1001.1" stroke="#333" stroke-width="1.3"/>
<line x1="1117" y1="1001.1" x2="1117" y2="1017.1" stroke="#333" stroke-width="1.3"/>
<line x1="1180.8" y1="1001.1" x2="1180.8" y2="1017.1" stroke="#333" stroke-width="1.3"/>
<line x1="1244.3" y1="1001.1" x2="1244.3" y2="1017.1" stroke="#333" stroke-width="1.3"/>
<line x1="1308.2" y1="1001.1" x2="1308.2" y2="1017.1" stroke="#333" stroke-width="1.3"/>
<line x1="1372" y1="1001.1" x2="1372" y2="1017.1" stroke="#333" stroke-width="1.3"/>
<line x1="1435.5" y1="1001.1" x2="1435.5" y2="1017.1" stroke="#333" stroke-width="1.3"/>
<rect x="1091.1" y="965.04" width="14.5" height="36.06" fill="#bdd7ee"/>
<rect x="1110" y="744.6" width="14.5" height="256.5" fill="#f2742b"/>
<rect x="1128.9" y="745.06" width="14.5" height="256.04" fill="#4bb749"/>
<rect x="1155.1" y="971.89" width="14.5" height="29.21" fill="#bdd7ee"/>
<rect x="1173.7" y="762.4" width="14.5" height="238.7" fill="#f2742b"/>
<rect x="1193" y="739.58" width="14.5" height="261.52" fill="#4bb749"/>
<rect x="1218.9" y="974.17" width="14.5" height="26.93" fill="#bdd7ee"/>
<rect x="1237.5" y="771.07" width="14.5" height="230.03" fill="#f2742b"/>
<rect x="1256.1" y="749.62" width="14.5" height="251.48" fill="#4bb749"/>
<rect x="1282.4" y="976.45" width="14.5" height="24.65" fill="#bdd7ee"/>
<rect x="1301.7" y="768.79" width="14.5" height="232.31" fill="#f2742b"/>
<rect x="1320" y="762.86" width="14.5" height="238.24" fill="#4bb749"/>
<rect x="1346.1" y="981.02" width="14.5" height="20.08" fill="#bdd7ee"/>
<rect x="1365.4" y="812.15" width="14.5" height="188.95" fill="#f2742b"/>
<rect x="1383.7" y="811.69" width="14.5" height="189.41" fill="#4bb749"/>
<rect x="1409.9" y="981.93" width="14.5" height="19.17" fill="#bdd7ee"/>
<rect x="1429.2" y="870.57" width="14.5" height="130.53" fill="#f2742b"/>
<rect x="1447.5" y="827.67" width="14.5" height="173.43" fill="#4bb749"/>
<line x1="1117.1" y1="729.4" x2="1117.1" y2="759.2" stroke="#1a1a1a" stroke-width="1.25"/>
<line x1="1113.2" y1="729.4" x2="1121" y2="729.4" stroke="#1a1a1a" stroke-width="1.25"/>
<line x1="1113.2" y1="759.2" x2="1121" y2="759.2" stroke="#1a1a1a" stroke-width="1.25"/>
<line x1="1135.7" y1="740.2" x2="1135.7" y2="750" stroke="#1a1a1a" stroke-width="1.25"/>
<line x1="1131.8" y1="740.2" x2="1139.6" y2="740.2" stroke="#1a1a1a" stroke-width="1.25"/>
<line x1="1131.8" y1="750" x2="1139.6" y2="750" stroke="#1a1a1a" stroke-width="1.25"/>
<line x1="1180.9" y1="753.1" x2="1180.9" y2="771.4" stroke="#1a1a1a" stroke-width="1.25"/>
<line x1="1177" y1="753.1" x2="1184.8" y2="753.1" stroke="#1a1a1a" stroke-width="1.25"/>
<line x1="1177" y1="771.4" x2="1184.8" y2="771.4" stroke="#1a1a1a" stroke-width="1.25"/>
<line x1="1199.9" y1="721.2" x2="1199.9" y2="758.7" stroke="#1a1a1a" stroke-width="1.25"/>
<line x1="1196" y1="721.2" x2="1203.8" y2="721.2" stroke="#1a1a1a" stroke-width="1.25"/>
<line x1="1196" y1="758.7" x2="1203.8" y2="758.7" stroke="#1a1a1a" stroke-width="1.25"/>
<line x1="1244.5" y1="766.2" x2="1244.5" y2="773.6" stroke="#1a1a1a" stroke-width="1.25"/>
<line x1="1240.6" y1="766.2" x2="1248.4" y2="766.2" stroke="#1a1a1a" stroke-width="1.25"/>
<line x1="1240.6" y1="773.6" x2="1248.4" y2="773.6" stroke="#1a1a1a" stroke-width="1.25"/>
<line x1="1263.5" y1="728.9" x2="1263.5" y2="769" stroke="#1a1a1a" stroke-width="1.25"/>
<line x1="1259.6" y1="728.9" x2="1267.4" y2="728.9" stroke="#1a1a1a" stroke-width="1.25"/>
<line x1="1259.6" y1="769" x2="1267.4" y2="769" stroke="#1a1a1a" stroke-width="1.25"/>
<line x1="1308.5" y1="762" x2="1308.5" y2="775.8" stroke="#1a1a1a" stroke-width="1.25"/>
<line x1="1304.6" y1="762" x2="1312.4" y2="762" stroke="#1a1a1a" stroke-width="1.25"/>
<line x1="1304.6" y1="775.8" x2="1312.4" y2="775.8" stroke="#1a1a1a" stroke-width="1.25"/>
<line x1="1327.1" y1="747.4" x2="1327.1" y2="776.4" stroke="#1a1a1a" stroke-width="1.25"/>
<line x1="1323.2" y1="747.4" x2="1331" y2="747.4" stroke="#1a1a1a" stroke-width="1.25"/>
<line x1="1323.2" y1="776.4" x2="1331" y2="776.4" stroke="#1a1a1a" stroke-width="1.25"/>
<line x1="1372.2" y1="806.7" x2="1372.2" y2="817.8" stroke="#1a1a1a" stroke-width="1.25"/>
<line x1="1368.3" y1="806.7" x2="1376.1" y2="806.7" stroke="#1a1a1a" stroke-width="1.25"/>
<line x1="1368.3" y1="817.8" x2="1376.1" y2="817.8" stroke="#1a1a1a" stroke-width="1.25"/>
<line x1="1391.3" y1="809.2" x2="1391.3" y2="814" stroke="#1a1a1a" stroke-width="1.25"/>
<line x1="1387.4" y1="809.2" x2="1395.2" y2="809.2" stroke="#1a1a1a" stroke-width="1.25"/>
<line x1="1387.4" y1="814" x2="1395.2" y2="814" stroke="#1a1a1a" stroke-width="1.25"/>
<line x1="1436" y1="866.3" x2="1436" y2="875.9" stroke="#1a1a1a" stroke-width="1.25"/>
<line x1="1432.1" y1="866.3" x2="1439.9" y2="866.3" stroke="#1a1a1a" stroke-width="1.25"/>
<line x1="1432.1" y1="875.9" x2="1439.9" y2="875.9" stroke="#1a1a1a" stroke-width="1.25"/>
<line x1="1454.6" y1="824" x2="1454.6" y2="828.5" stroke="#1a1a1a" stroke-width="1.25"/>
<line x1="1450.7" y1="824" x2="1458.5" y2="824" stroke="#1a1a1a" stroke-width="1.25"/>
<line x1="1450.7" y1="828.5" x2="1458.5" y2="828.5" stroke="#1a1a1a" stroke-width="1.25"/>
<line x1="1098.4" y1="962.5" x2="1098.4" y2="966.5" stroke="#1a1a1a" stroke-width="1.25"/>
<line x1="1094.5" y1="962.5" x2="1102.3" y2="962.5" stroke="#1a1a1a" stroke-width="1.25"/>
<line x1="1094.5" y1="966.5" x2="1102.3" y2="966.5" stroke="#1a1a1a" stroke-width="1.25"/>
<line x1="1162.4" y1="969.8" x2="1162.4" y2="975" stroke="#1a1a1a" stroke-width="1.25"/>
<line x1="1158.5" y1="969.8" x2="1166.3" y2="969.8" stroke="#1a1a1a" stroke-width="1.25"/>
<line x1="1158.5" y1="975" x2="1166.3" y2="975" stroke="#1a1a1a" stroke-width="1.25"/>
<line x1="1226" y1="972" x2="1226" y2="975" stroke="#1a1a1a" stroke-width="1.25"/>
<line x1="1222.1" y1="972" x2="1229.9" y2="972" stroke="#1a1a1a" stroke-width="1.25"/>
<line x1="1222.1" y1="975" x2="1229.9" y2="975" stroke="#1a1a1a" stroke-width="1.25"/>
<line x1="1289.5" y1="976.5" x2="1289.5" y2="979.5" stroke="#1a1a1a" stroke-width="1.25"/>
<line x1="1285.6" y1="976.5" x2="1293.4" y2="976.5" stroke="#1a1a1a" stroke-width="1.25"/>
<line x1="1285.6" y1="979.5" x2="1293.4" y2="979.5" stroke="#1a1a1a" stroke-width="1.25"/>
<line x1="1353.3" y1="979.5" x2="1353.3" y2="982" stroke="#1a1a1a" stroke-width="1.25"/>
<line x1="1349.4" y1="979.5" x2="1357.2" y2="979.5" stroke="#1a1a1a" stroke-width="1.25"/>
<line x1="1349.4" y1="982" x2="1357.2" y2="982" stroke="#1a1a1a" stroke-width="1.25"/>
<line x1="1417" y1="980.5" x2="1417" y2="983.5" stroke="#1a1a1a" stroke-width="1.25"/>
<line x1="1413.1" y1="980.5" x2="1420.9" y2="980.5" stroke="#1a1a1a" stroke-width="1.25"/>
<line x1="1413.1" y1="983.5" x2="1420.9" y2="983.5" stroke="#1a1a1a" stroke-width="1.25"/>
<circle cx="1111.5" cy="732.7" r="2.2" fill="#1a1a1a"/>
<circle cx="1122" cy="732.7" r="2.2" fill="#1a1a1a"/>
<circle cx="1117.1" cy="749.5" r="2.2" fill="#1a1a1a"/>
<circle cx="1117.1" cy="762.8" r="2.2" fill="#1a1a1a"/>
<circle cx="1135.7" cy="738.7" r="2.2" fill="#1a1a1a"/>
<circle cx="1135.7" cy="745.9" r="2.2" fill="#1a1a1a"/>
<circle cx="1130.8" cy="749.8" r="2.2" fill="#1a1a1a"/>
<circle cx="1141.1" cy="747.4" r="2.2" fill="#1a1a1a"/>
<circle cx="1180.9" cy="751" r="2.2" fill="#1a1a1a"/>
<circle cx="1180.9" cy="759.4" r="2.2" fill="#1a1a1a"/>
<circle cx="1180.9" cy="766.1" r="2.2" fill="#1a1a1a"/>
<circle cx="1180.9" cy="772.8" r="2.2" fill="#1a1a1a"/>
<circle cx="1199.9" cy="718.6" r="2.2" fill="#1a1a1a"/>
<circle cx="1199.9" cy="735.6" r="2.2" fill="#1a1a1a"/>
<circle cx="1199.9" cy="740.7" r="2.2" fill="#1a1a1a"/>
<circle cx="1199.9" cy="764.4" r="2.2" fill="#1a1a1a"/>
<circle cx="1239.3" cy="768.3" r="2.2" fill="#1a1a1a"/>
<circle cx="1249.6" cy="765.2" r="2.2" fill="#1a1a1a"/>
<circle cx="1239.3" cy="773.8" r="2.2" fill="#1a1a1a"/>
<circle cx="1249.6" cy="773.4" r="2.2" fill="#1a1a1a"/>
<circle cx="1263.5" cy="734" r="2.2" fill="#1a1a1a"/>
<circle cx="1263.5" cy="739.2" r="2.2" fill="#1a1a1a"/>
<circle cx="1263.5" cy="744.8" r="2.2" fill="#1a1a1a"/>
<circle cx="1263.5" cy="778" r="2.2" fill="#1a1a1a"/>
<circle cx="1308.5" cy="759.5" r="2.2" fill="#1a1a1a"/>
<circle cx="1303" cy="766.6" r="2.2" fill="#1a1a1a"/>
<circle cx="1313.7" cy="769" r="2.2" fill="#1a1a1a"/>
<circle cx="1308.5" cy="776.8" r="2.2" fill="#1a1a1a"/>
<circle cx="1321.9" cy="752.6" r="2.2" fill="#1a1a1a"/>
<circle cx="1332" cy="752.6" r="2.2" fill="#1a1a1a"/>
<circle cx="1327.1" cy="758.5" r="2.2" fill="#1a1a1a"/>
<circle cx="1327.1" cy="783.5" r="2.2" fill="#1a1a1a"/>
<circle cx="1372.2" cy="806.1" r="2.2" fill="#1a1a1a"/>
<circle cx="1366.8" cy="810.7" r="2.2" fill="#1a1a1a"/>
<circle cx="1377.1" cy="812.3" r="2.2" fill="#1a1a1a"/>
<circle cx="1372.2" cy="817.6" r="2.2" fill="#1a1a1a"/>
<circle cx="1385.7" cy="813.8" r="2.2" fill="#1a1a1a"/>
<circle cx="1391.3" cy="810.4" r="2.2" fill="#1a1a1a"/>
<circle cx="1396.3" cy="808.3" r="2.2" fill="#1a1a1a"/>
<circle cx="1396.3" cy="813.8" r="2.2" fill="#1a1a1a"/>
<circle cx="1430.8" cy="866.3" r="2.2" fill="#1a1a1a"/>
<circle cx="1441" cy="866.6" r="2.2" fill="#1a1a1a"/>
<circle cx="1436" cy="870.3" r="2.2" fill="#1a1a1a"/>
<circle cx="1436" cy="876.5" r="2.2" fill="#1a1a1a"/>
<circle cx="1449.4" cy="825.2" r="2.2" fill="#1a1a1a"/>
<circle cx="1454.6" cy="824.5" r="2.2" fill="#1a1a1a"/>
<circle cx="1459.9" cy="827.7" r="2.2" fill="#1a1a1a"/>
<circle cx="1449.4" cy="829" r="2.2" fill="#1a1a1a"/>
<circle cx="1092.9" cy="961.9" r="2.2" fill="#1a1a1a"/>
<circle cx="1092.9" cy="966.2" r="2.2" fill="#1a1a1a"/>
<circle cx="1101" cy="965" r="2.2" fill="#1a1a1a"/>
<circle cx="1103.8" cy="965.5" r="2.2" fill="#1a1a1a"/>
<circle cx="1156.7" cy="969.8" r="2.2" fill="#1a1a1a"/>
<circle cx="1156.7" cy="975.1" r="2.2" fill="#1a1a1a"/>
<circle cx="1164.2" cy="970.8" r="2.2" fill="#1a1a1a"/>
<circle cx="1167.8" cy="971.2" r="2.2" fill="#1a1a1a"/>
<circle cx="1220.7" cy="973.8" r="2.2" fill="#1a1a1a"/>
<circle cx="1224.7" cy="971.4" r="2.2" fill="#1a1a1a"/>
<circle cx="1228.7" cy="973.4" r="2.2" fill="#1a1a1a"/>
<circle cx="1231.6" cy="973.4" r="2.2" fill="#1a1a1a"/>
<circle cx="1284" cy="979.1" r="2.2" fill="#1a1a1a"/>
<circle cx="1287" cy="975.7" r="2.2" fill="#1a1a1a"/>
<circle cx="1291" cy="975.7" r="2.2" fill="#1a1a1a"/>
<circle cx="1295" cy="975.7" r="2.2" fill="#1a1a1a"/>
<circle cx="1347.4" cy="980.7" r="2.2" fill="#1a1a1a"/>
<circle cx="1351.3" cy="979.3" r="2.2" fill="#1a1a1a"/>
<circle cx="1354.6" cy="980.3" r="2.2" fill="#1a1a1a"/>
<circle cx="1358.2" cy="980.3" r="2.2" fill="#1a1a1a"/>
<circle cx="1411.7" cy="983.3" r="2.2" fill="#1a1a1a"/>
<circle cx="1414.7" cy="980.7" r="2.2" fill="#1a1a1a"/>
<circle cx="1418.7" cy="981.7" r="2.2" fill="#1a1a1a"/>
<circle cx="1421.6" cy="981.7" r="2.2" fill="#1a1a1a"/>
<line x1="1098.9" y1="686" x2="1137.8" y2="686" stroke="#1a1a1a" stroke-width="1.4"/>
<text x="1100.1" y="673.8" font-size="18.6" fill="#1a1a1a" stroke="#1a1a1a" stroke-width="0.45">6.9x</text>
<line x1="1098.9" y1="716.2" x2="1118.4" y2="716.2" stroke="#1a1a1a" stroke-width="1.4"/>
<text x="1098" y="707.6" font-size="18.6" fill="#1a1a1a" stroke="#1a1a1a" stroke-width="0.45">7.0x</text>
<line x1="1160" y1="699" x2="1197.9" y2="699" stroke="#1a1a1a" stroke-width="1.4"/>
<text x="1162" y="682.4" font-size="18.6" fill="#1a1a1a" stroke="#1a1a1a" stroke-width="0.45">8.8x</text>
<line x1="1160" y1="728.9" x2="1178.4" y2="728.9" stroke="#1a1a1a" stroke-width="1.4"/>
<text x="1160" y="718.6" font-size="18.6" fill="#1a1a1a" stroke="#1a1a1a" stroke-width="0.45">8.0x</text>
<line x1="1225.3" y1="707" x2="1263.5" y2="707" stroke="#1a1a1a" stroke-width="1.4"/>
<text x="1227.3" y="690.3" font-size="18.6" fill="#1a1a1a" stroke="#1a1a1a" stroke-width="0.45">8.8x</text>
<line x1="1225.6" y1="737.6" x2="1244.5" y2="737.6" stroke="#1a1a1a" stroke-width="1.4"/>
<text x="1225" y="724.3" font-size="18.6" fill="#1a1a1a" stroke="#1a1a1a" stroke-width="0.45">8.0x</text>
<line x1="1286.3" y1="712.5" x2="1323.9" y2="712.5" stroke="#1a1a1a" stroke-width="1.4"/>
<text x="1286.3" y="699.5" font-size="18.6" fill="#1a1a1a" stroke="#1a1a1a" stroke-width="0.45">9.5x</text>
<line x1="1286.3" y1="743" x2="1305" y2="743" stroke="#1a1a1a" stroke-width="1.4"/>
<text x="1283.7" y="733.1" font-size="18.6" fill="#1a1a1a" stroke="#1a1a1a" stroke-width="0.45">9.2x</text>
<line x1="1351" y1="760" x2="1389.3" y2="760" stroke="#1a1a1a" stroke-width="1.4"/>
<text x="1351" y="740.7" font-size="18.6" fill="#1a1a1a" stroke="#1a1a1a" stroke-width="0.45">8.8x</text>
<line x1="1351" y1="790.3" x2="1370.3" y2="790.3" stroke="#1a1a1a" stroke-width="1.4"/>
<text x="1345.8" y="775" font-size="18.6" fill="#1a1a1a" stroke="#1a1a1a" stroke-width="0.45">8.8x</text>
<line x1="1415.4" y1="808.3" x2="1454.6" y2="808.3" stroke="#1a1a1a" stroke-width="1.4"/>
<text x="1413.1" y="792" font-size="18.6" fill="#1a1a1a" stroke="#1a1a1a" stroke-width="0.45">8.7x</text>
<line x1="1415.4" y1="837.7" x2="1434.4" y2="837.7" stroke="#1a1a1a" stroke-width="1.4"/>
<text x="1413.1" y="826.3" font-size="18.6" fill="#1a1a1a" stroke="#1a1a1a" stroke-width="0.45">6.6x</text>
<text transform="translate(1036.2,830.2) rotate(-90)" font-size="23" fill="#1a1a1a" text-anchor="middle" letter-spacing="-0.55">RLU (x10<tspan font-size="11.5" dy="-8.5">4</tspan><tspan dy="8.5">)</tspan></text>
<text x="1026.6" y="1043.8" font-size="21.5" fill="#1a1a1a" stroke="#1a1a1a" stroke-width="0.45">NPR1</text>
<text x="1026.6" y="1076.8" font-size="21.5" fill="#1a1a1a" stroke="#1a1a1a" stroke-width="0.45">NPR4</text>
<text x="1026.6" y="1106.4" font-size="21.5" fill="#1a1a1a" stroke="#1a1a1a" stroke-width="0.45">NLuc</text>
<text x="1116.3" y="1044" font-size="22.8" text-anchor="middle" fill="#1a1a1a" stroke="#1a1a1a" stroke-width="0.45">10</text>
<text x="1181.2" y="1044" font-size="22.8" text-anchor="middle" fill="#1a1a1a" stroke="#1a1a1a" stroke-width="0.45">20</text>
<text x="1244.3" y="1044" font-size="22.8" text-anchor="middle" fill="#1a1a1a" stroke="#1a1a1a" stroke-width="0.45">30</text>
<text x="1308" y="1044" font-size="22.8" text-anchor="middle" fill="#1a1a1a" stroke="#1a1a1a" stroke-width="0.45">40</text>
<text x="1371.5" y="1044" font-size="22.8" text-anchor="middle" fill="#1a1a1a" stroke="#1a1a1a" stroke-width="0.45">50</text>
<text x="1435.7" y="1044" font-size="22.8" text-anchor="middle" fill="#1a1a1a" stroke="#1a1a1a" stroke-width="0.45">60</text>
<path d="M1095.2,1045.1 L1447.3,1027.6 L1447.3,1045.1 Z" fill="#92c4ea" stroke="none" stroke-width="1"/>
<clipPath id="clipg"><path d="M1095.2,1045.1 L1447.3,1027.6 L1447.3,1045.1 Z"/></clipPath>
<g clip-path="url(#clipg)">
<text x="1116.3" y="1044" font-size="22.8" text-anchor="middle" fill="#3d6478" stroke="#3d6478" stroke-width="0.45">10</text>
<text x="1181.2" y="1044" font-size="22.8" text-anchor="middle" fill="#3d6478" stroke="#3d6478" stroke-width="0.45">20</text>
<text x="1244.3" y="1044" font-size="22.8" text-anchor="middle" fill="#3d6478" stroke="#3d6478" stroke-width="0.45">30</text>
<text x="1308" y="1044" font-size="22.8" text-anchor="middle" fill="#3d6478" stroke="#3d6478" stroke-width="0.45">40</text>
<text x="1371.5" y="1044" font-size="22.8" text-anchor="middle" fill="#3d6478" stroke="#3d6478" stroke-width="0.45">50</text>
<text x="1435.7" y="1044" font-size="22.8" text-anchor="middle" fill="#3d6478" stroke="#3d6478" stroke-width="0.45">60</text>
</g>
<rect x="1095.7" y="1061" width="352.1" height="15.8" fill="#80cc9b"/>
<text x="1277.55" y="1073.3" font-size="22.8" text-anchor="middle" fill="#1a1a1a" stroke="#1a1a1a" stroke-width="0.45">10</text>
<rect x="1095.7" y="1092.2" width="352.1" height="15.4" fill="#f28174"/>
<text x="1277.55" y="1105.2" font-size="22.8" text-anchor="middle" fill="#1a1a1a" stroke="#1a1a1a" stroke-width="0.45">30</text>
<text x="1278.6" y="1127.2" font-size="22.8" text-anchor="middle" fill="#1a1a1a" stroke="#1a1a1a" stroke-width="0.45">(ng/well)</text>
<text x="1491.2" y="589.5" font-size="31" fill="#1a1a1a" stroke="#1a1a1a" stroke-width="0.45">h</text>
<rect x="1575.3" y="590.2" width="43.5" height="9" fill="#bdd7ee"/>
<rect x="1743.3" y="589.8" width="43.5" height="9" fill="#f2742b"/>
<rect x="1575.3" y="616.6" width="43.5" height="9" fill="#4bb749"/>
<text x="1632.2" y="601.8" font-size="18.6" fill="#1a1a1a" stroke="#1a1a1a" stroke-width="0.45">Non-induced</text>
<text x="1800" y="601.6" font-size="18.6" fill="#1a1a1a" stroke="#1a1a1a" stroke-width="0.45">ASA (200 μM)</text>
<text x="1632.2" y="627.7" font-size="18.6" fill="#1a1a1a" stroke="#1a1a1a" stroke-width="0.45">SA (200 μM)</text>
<line x1="1565.4" y1="638" x2="1565.4" y2="1002.5" stroke="#333" stroke-width="1.3"/>
<line x1="1549.9" y1="1002.5" x2="1565.4" y2="1002.5" stroke="#333" stroke-width="1.3"/>
<text x="1546.7" y="1009.9" font-size="23" text-anchor="end" fill="#1a1a1a" stroke="#1a1a1a" stroke-width="0.45">0</text>
<line x1="1549.9" y1="929.6" x2="1565.4" y2="929.6" stroke="#333" stroke-width="1.3"/>
<text x="1546.7" y="937" font-size="23" text-anchor="end" fill="#1a1a1a" stroke="#1a1a1a" stroke-width="0.45">25</text>
<line x1="1549.9" y1="856.7" x2="1565.4" y2="856.7" stroke="#333" stroke-width="1.3"/>
<text x="1546.7" y="864.1" font-size="23" text-anchor="end" fill="#1a1a1a" stroke="#1a1a1a" stroke-width="0.45">50</text>
<line x1="1549.9" y1="783.8" x2="1565.4" y2="783.8" stroke="#333" stroke-width="1.3"/>
<text x="1546.7" y="791.2" font-size="23" text-anchor="end" fill="#1a1a1a" stroke="#1a1a1a" stroke-width="0.45">75</text>
<line x1="1549.9" y1="710.9" x2="1565.4" y2="710.9" stroke="#333" stroke-width="1.3"/>
<text x="1546.7" y="718.3" font-size="23" text-anchor="end" fill="#1a1a1a" stroke="#1a1a1a" stroke-width="0.45">100</text>
<line x1="1549.9" y1="638" x2="1565.4" y2="638" stroke="#333" stroke-width="1.3"/>
<text x="1546.7" y="645.4" font-size="23" text-anchor="end" fill="#1a1a1a" stroke="#1a1a1a" stroke-width="0.45">125</text>
<line x1="1549.9" y1="1002.5" x2="1944" y2="1002.5" stroke="#333" stroke-width="1.3"/>
<line x1="1595.2" y1="1002.5" x2="1595.2" y2="1018.5" stroke="#333" stroke-width="1.3"/>
<line x1="1659.1" y1="1002.5" x2="1659.1" y2="1018.5" stroke="#333" stroke-width="1.3"/>
<line x1="1722.5" y1="1002.5" x2="1722.5" y2="1018.5" stroke="#333" stroke-width="1.3"/>
<line x1="1786.2" y1="1002.5" x2="1786.2" y2="1018.5" stroke="#333" stroke-width="1.3"/>
<line x1="1850.1" y1="1002.5" x2="1850.1" y2="1018.5" stroke="#333" stroke-width="1.3"/>
<line x1="1913.5" y1="1002.5" x2="1913.5" y2="1018.5" stroke="#333" stroke-width="1.3"/>
<rect x="1569.6" y="992.59" width="14.5" height="9.91" fill="#bdd7ee"/>
<rect x="1588.7" y="888.48" width="14.5" height="114.02" fill="#f2742b"/>
<rect x="1607.1" y="874.2" width="14.5" height="128.3" fill="#4bb749"/>
<rect x="1633.3" y="993.46" width="14.5" height="9.04" fill="#bdd7ee"/>
<rect x="1652.2" y="872.15" width="14.5" height="130.35" fill="#f2742b"/>
<rect x="1670.8" y="858.45" width="14.5" height="144.05" fill="#4bb749"/>
<rect x="1696.8" y="987.63" width="14.5" height="14.87" fill="#bdd7ee"/>
<rect x="1715.4" y="834.83" width="14.5" height="167.67" fill="#f2742b"/>
<rect x="1734.3" y="839.5" width="14.5" height="163" fill="#4bb749"/>
<rect x="1760.3" y="988.79" width="14.5" height="13.71" fill="#bdd7ee"/>
<rect x="1779.2" y="798.09" width="14.5" height="204.41" fill="#f2742b"/>
<rect x="1798.2" y="814.13" width="14.5" height="188.37" fill="#4bb749"/>
<rect x="1824" y="982.09" width="14.5" height="20.41" fill="#bdd7ee"/>
<rect x="1842.9" y="783.8" width="14.5" height="218.7" fill="#f2742b"/>
<rect x="1861.8" y="792.26" width="14.5" height="210.24" fill="#4bb749"/>
<rect x="1887.6" y="978.88" width="14.5" height="23.62" fill="#bdd7ee"/>
<rect x="1906.5" y="749.97" width="14.5" height="252.53" fill="#f2742b"/>
<rect x="1925.4" y="780.88" width="14.5" height="221.62" fill="#4bb749"/>
<line x1="1595.2" y1="871.1" x2="1595.2" y2="905.7" stroke="#1a1a1a" stroke-width="1.25"/>
<line x1="1591.3" y1="871.1" x2="1599.1" y2="871.1" stroke="#1a1a1a" stroke-width="1.25"/>
<line x1="1591.3" y1="905.7" x2="1599.1" y2="905.7" stroke="#1a1a1a" stroke-width="1.25"/>
<line x1="1614.2" y1="859.7" x2="1614.2" y2="887.6" stroke="#1a1a1a" stroke-width="1.25"/>
<line x1="1610.3" y1="859.7" x2="1618.1" y2="859.7" stroke="#1a1a1a" stroke-width="1.25"/>
<line x1="1610.3" y1="887.6" x2="1618.1" y2="887.6" stroke="#1a1a1a" stroke-width="1.25"/>
<line x1="1659.3" y1="855" x2="1659.3" y2="888.8" stroke="#1a1a1a" stroke-width="1.25"/>
<line x1="1655.4" y1="855" x2="1663.2" y2="855" stroke="#1a1a1a" stroke-width="1.25"/>
<line x1="1655.4" y1="888.8" x2="1663.2" y2="888.8" stroke="#1a1a1a" stroke-width="1.25"/>
<line x1="1678" y1="837.6" x2="1678" y2="878.2" stroke="#1a1a1a" stroke-width="1.25"/>
<line x1="1674.1" y1="837.6" x2="1681.9" y2="837.6" stroke="#1a1a1a" stroke-width="1.25"/>
<line x1="1674.1" y1="878.2" x2="1681.9" y2="878.2" stroke="#1a1a1a" stroke-width="1.25"/>
<line x1="1722.5" y1="808.4" x2="1722.5" y2="861.7" stroke="#1a1a1a" stroke-width="1.25"/>
<line x1="1718.6" y1="808.4" x2="1726.4" y2="808.4" stroke="#1a1a1a" stroke-width="1.25"/>
<line x1="1718.6" y1="861.7" x2="1726.4" y2="861.7" stroke="#1a1a1a" stroke-width="1.25"/>
<line x1="1741.5" y1="829.8" x2="1741.5" y2="849.4" stroke="#1a1a1a" stroke-width="1.25"/>
<line x1="1737.6" y1="829.8" x2="1745.4" y2="829.8" stroke="#1a1a1a" stroke-width="1.25"/>
<line x1="1737.6" y1="849.4" x2="1745.4" y2="849.4" stroke="#1a1a1a" stroke-width="1.25"/>
<line x1="1786.5" y1="782.3" x2="1786.5" y2="813.3" stroke="#1a1a1a" stroke-width="1.25"/>
<line x1="1782.6" y1="782.3" x2="1790.4" y2="782.3" stroke="#1a1a1a" stroke-width="1.25"/>
<line x1="1782.6" y1="813.3" x2="1790.4" y2="813.3" stroke="#1a1a1a" stroke-width="1.25"/>
<line x1="1805.3" y1="792" x2="1805.3" y2="835.5" stroke="#1a1a1a" stroke-width="1.25"/>
<line x1="1801.4" y1="792" x2="1809.2" y2="792" stroke="#1a1a1a" stroke-width="1.25"/>
<line x1="1801.4" y1="835.5" x2="1809.2" y2="835.5" stroke="#1a1a1a" stroke-width="1.25"/>
<line x1="1849.9" y1="753" x2="1849.9" y2="815" stroke="#1a1a1a" stroke-width="1.25"/>
<line x1="1846" y1="753" x2="1853.8" y2="753" stroke="#1a1a1a" stroke-width="1.25"/>
<line x1="1846" y1="815" x2="1853.8" y2="815" stroke="#1a1a1a" stroke-width="1.25"/>
<line x1="1868.5" y1="766.8" x2="1868.5" y2="817.2" stroke="#1a1a1a" stroke-width="1.25"/>
<line x1="1864.6" y1="766.8" x2="1872.4" y2="766.8" stroke="#1a1a1a" stroke-width="1.25"/>
<line x1="1864.6" y1="817.2" x2="1872.4" y2="817.2" stroke="#1a1a1a" stroke-width="1.25"/>
<line x1="1913.7" y1="713.3" x2="1913.7" y2="786.8" stroke="#1a1a1a" stroke-width="1.25"/>
<line x1="1909.8" y1="713.3" x2="1917.6" y2="713.3" stroke="#1a1a1a" stroke-width="1.25"/>
<line x1="1909.8" y1="786.8" x2="1917.6" y2="786.8" stroke="#1a1a1a" stroke-width="1.25"/>
<line x1="1932.3" y1="764.3" x2="1932.3" y2="796.8" stroke="#1a1a1a" stroke-width="1.25"/>
<line x1="1928.4" y1="764.3" x2="1936.2" y2="764.3" stroke="#1a1a1a" stroke-width="1.25"/>
<line x1="1928.4" y1="796.8" x2="1936.2" y2="796.8" stroke="#1a1a1a" stroke-width="1.25"/>
<line x1="1576.8" y1="989.5" x2="1576.8" y2="992.5" stroke="#1a1a1a" stroke-width="1.25"/>
<line x1="1572.9" y1="989.5" x2="1580.7" y2="989.5" stroke="#1a1a1a" stroke-width="1.25"/>
<line x1="1572.9" y1="992.5" x2="1580.7" y2="992.5" stroke="#1a1a1a" stroke-width="1.25"/>
<line x1="1640.5" y1="987.7" x2="1640.5" y2="992.5" stroke="#1a1a1a" stroke-width="1.25"/>
<line x1="1636.6" y1="987.7" x2="1644.4" y2="987.7" stroke="#1a1a1a" stroke-width="1.25"/>
<line x1="1636.6" y1="992.5" x2="1644.4" y2="992.5" stroke="#1a1a1a" stroke-width="1.25"/>
<line x1="1767.5" y1="985" x2="1767.5" y2="989" stroke="#1a1a1a" stroke-width="1.25"/>
<line x1="1763.6" y1="985" x2="1771.4" y2="985" stroke="#1a1a1a" stroke-width="1.25"/>
<line x1="1763.6" y1="989" x2="1771.4" y2="989" stroke="#1a1a1a" stroke-width="1.25"/>
<line x1="1830.6" y1="977.5" x2="1830.6" y2="982" stroke="#1a1a1a" stroke-width="1.25"/>
<line x1="1826.7" y1="977.5" x2="1834.5" y2="977.5" stroke="#1a1a1a" stroke-width="1.25"/>
<line x1="1826.7" y1="982" x2="1834.5" y2="982" stroke="#1a1a1a" stroke-width="1.25"/>
<line x1="1894.9" y1="973.5" x2="1894.9" y2="978.5" stroke="#1a1a1a" stroke-width="1.25"/>
<line x1="1891" y1="973.5" x2="1898.8" y2="973.5" stroke="#1a1a1a" stroke-width="1.25"/>
<line x1="1891" y1="978.5" x2="1898.8" y2="978.5" stroke="#1a1a1a" stroke-width="1.25"/>
<circle cx="1595.2" cy="864" r="2.2" fill="#1a1a1a"/>
<circle cx="1595.2" cy="887.9" r="2.2" fill="#1a1a1a"/>
<circle cx="1590.1" cy="901.9" r="2.2" fill="#1a1a1a"/>
<circle cx="1600.4" cy="898.8" r="2.2" fill="#1a1a1a"/>
<circle cx="1614.2" cy="853.1" r="2.2" fill="#1a1a1a"/>
<circle cx="1608.9" cy="881.3" r="2.2" fill="#1a1a1a"/>
<circle cx="1614.2" cy="879.1" r="2.2" fill="#1a1a1a"/>
<circle cx="1619.6" cy="881.3" r="2.2" fill="#1a1a1a"/>
<circle cx="1659.3" cy="847.1" r="2.2" fill="#1a1a1a"/>
<circle cx="1654" cy="877.4" r="2.2" fill="#1a1a1a"/>
<circle cx="1654" cy="883.2" r="2.2" fill="#1a1a1a"/>
<circle cx="1664.3" cy="880.3" r="2.2" fill="#1a1a1a"/>
<circle cx="1678" cy="828.8" r="2.2" fill="#1a1a1a"/>
<circle cx="1678" cy="860.1" r="2.2" fill="#1a1a1a"/>
<circle cx="1678" cy="867.2" r="2.2" fill="#1a1a1a"/>
<circle cx="1678" cy="875.9" r="2.2" fill="#1a1a1a"/>
<circle cx="1722.5" cy="813.3" r="2.2" fill="#1a1a1a"/>
<circle cx="1717.4" cy="826.4" r="2.2" fill="#1a1a1a"/>
<circle cx="1727.6" cy="826.4" r="2.2" fill="#1a1a1a"/>
<circle cx="1722.5" cy="874" r="2.2" fill="#1a1a1a"/>
<circle cx="1741.5" cy="826.1" r="2.2" fill="#1a1a1a"/>
<circle cx="1736.3" cy="841.9" r="2.2" fill="#1a1a1a"/>
<circle cx="1746.5" cy="841.9" r="2.2" fill="#1a1a1a"/>
<circle cx="1741.5" cy="848.7" r="2.2" fill="#1a1a1a"/>
<circle cx="1786.5" cy="778.5" r="2.2" fill="#1a1a1a"/>
<circle cx="1786.5" cy="791.3" r="2.2" fill="#1a1a1a"/>
<circle cx="1781.3" cy="811.2" r="2.2" fill="#1a1a1a"/>
<circle cx="1791.8" cy="809.3" r="2.2" fill="#1a1a1a"/>
<circle cx="1805.3" cy="792.8" r="2.2" fill="#1a1a1a"/>
<circle cx="1800" cy="808.5" r="2.2" fill="#1a1a1a"/>
<circle cx="1810.2" cy="810" r="2.2" fill="#1a1a1a"/>
<circle cx="1805.3" cy="844.5" r="2.2" fill="#1a1a1a"/>
<circle cx="1849.9" cy="744" r="2.2" fill="#1a1a1a"/>
<circle cx="1849.9" cy="782.7" r="2.2" fill="#1a1a1a"/>
<circle cx="1849.9" cy="789.7" r="2.2" fill="#1a1a1a"/>
<circle cx="1849.9" cy="819.3" r="2.2" fill="#1a1a1a"/>
<circle cx="1868.5" cy="763" r="2.2" fill="#1a1a1a"/>
<circle cx="1868.5" cy="782.3" r="2.2" fill="#1a1a1a"/>
<circle cx="1868.5" cy="800.3" r="2.2" fill="#1a1a1a"/>
<circle cx="1868.5" cy="822" r="2.2" fill="#1a1a1a"/>
<circle cx="1913.7" cy="700.5" r="2.2" fill="#1a1a1a"/>
<circle cx="1913.7" cy="748.2" r="2.2" fill="#1a1a1a"/>
<circle cx="1913.7" cy="762.3" r="2.2" fill="#1a1a1a"/>
<circle cx="1913.7" cy="788.2" r="2.2" fill="#1a1a1a"/>
<circle cx="1932.3" cy="765.8" r="2.2" fill="#1a1a1a"/>
<circle cx="1932.3" cy="769.8" r="2.2" fill="#1a1a1a"/>
<circle cx="1932.3" cy="789" r="2.2" fill="#1a1a1a"/>
<circle cx="1932.3" cy="800" r="2.2" fill="#1a1a1a"/>
<circle cx="1571.5" cy="992.6" r="2.2" fill="#1a1a1a"/>
<circle cx="1575.4" cy="988.6" r="2.2" fill="#1a1a1a"/>
<circle cx="1578.8" cy="992.6" r="2.2" fill="#1a1a1a"/>
<circle cx="1582.1" cy="991" r="2.2" fill="#1a1a1a"/>
<circle cx="1635" cy="992.6" r="2.2" fill="#1a1a1a"/>
<circle cx="1640" cy="989.6" r="2.2" fill="#1a1a1a"/>
<circle cx="1644.9" cy="986.7" r="2.2" fill="#1a1a1a"/>
<circle cx="1644.9" cy="992" r="2.2" fill="#1a1a1a"/>
<circle cx="1698.3" cy="987.7" r="2.2" fill="#1a1a1a"/>
<circle cx="1701.8" cy="987.7" r="2.2" fill="#1a1a1a"/>
<circle cx="1705.8" cy="987.7" r="2.2" fill="#1a1a1a"/>
<circle cx="1709.1" cy="987.7" r="2.2" fill="#1a1a1a"/>
<circle cx="1762.5" cy="989.2" r="2.2" fill="#1a1a1a"/>
<circle cx="1767.5" cy="986.2" r="2.2" fill="#1a1a1a"/>
<circle cx="1772.3" cy="983.3" r="2.2" fill="#1a1a1a"/>
<circle cx="1772.3" cy="987.7" r="2.2" fill="#1a1a1a"/>
<circle cx="1825.7" cy="978.8" r="2.2" fill="#1a1a1a"/>
<circle cx="1825.7" cy="982.7" r="2.2" fill="#1a1a1a"/>
<circle cx="1835.6" cy="975.4" r="2.2" fill="#1a1a1a"/>
<circle cx="1835.6" cy="981.3" r="2.2" fill="#1a1a1a"/>
<circle cx="1889.9" cy="973.8" r="2.2" fill="#1a1a1a"/>
<circle cx="1889.9" cy="979.2" r="2.2" fill="#1a1a1a"/>
<circle cx="1899.8" cy="972.2" r="2.2" fill="#1a1a1a"/>
<circle cx="1899.8" cy="978.2" r="2.2" fill="#1a1a1a"/>
<line x1="1577.8" y1="817.1" x2="1616.1" y2="817.1" stroke="#1a1a1a" stroke-width="1.4"/>
<text x="1579.7" y="802.6" font-size="18.6" fill="#1a1a1a" stroke="#1a1a1a" stroke-width="0.45">11.0x</text>
<line x1="1577.8" y1="847.2" x2="1596.9" y2="847.2" stroke="#1a1a1a" stroke-width="1.4"/>
<text x="1575.9" y="836" font-size="18.6" fill="#1a1a1a" stroke="#1a1a1a" stroke-width="0.45">9.8x</text>
<line x1="1639.9" y1="801.8" x2="1679" y2="801.8" stroke="#1a1a1a" stroke-width="1.4"/>
<text x="1641.5" y="782.9" font-size="18.6" fill="#1a1a1a" stroke="#1a1a1a" stroke-width="0.45">11.3x</text>
<line x1="1639.9" y1="832.1" x2="1659.9" y2="832.1" stroke="#1a1a1a" stroke-width="1.4"/>
<text x="1639.5" y="819" font-size="18.6" fill="#1a1a1a" stroke="#1a1a1a" stroke-width="0.45">10.2x</text>
<line x1="1703.6" y1="767.6" x2="1741.9" y2="767.6" stroke="#1a1a1a" stroke-width="1.4"/>
<text x="1706.4" y="749.2" font-size="18.6" fill="#1a1a1a" stroke="#1a1a1a" stroke-width="0.45">11.6x</text>
<line x1="1703.6" y1="797.1" x2="1722.8" y2="797.1" stroke="#1a1a1a" stroke-width="1.4"/>
<text x="1703.6" y="782.1" font-size="18.6" fill="#1a1a1a" stroke="#1a1a1a" stroke-width="0.45">10.9x</text>
<line x1="1767.2" y1="737" x2="1805" y2="737" stroke="#1a1a1a" stroke-width="1.4"/>
<text x="1765.5" y="723.2" font-size="18.6" fill="#1a1a1a" stroke="#1a1a1a" stroke-width="0.45">11.7x</text>
<line x1="1767.2" y1="767.2" x2="1785.4" y2="767.2" stroke="#1a1a1a" stroke-width="1.4"/>
<text x="1765.5" y="756.6" font-size="18.6" fill="#1a1a1a" stroke="#1a1a1a" stroke-width="0.45">12.7x</text>
<line x1="1829.8" y1="705.3" x2="1867.6" y2="705.3" stroke="#1a1a1a" stroke-width="1.4"/>
<text x="1829.1" y="686" font-size="18.6" fill="#1a1a1a" stroke="#1a1a1a" stroke-width="0.45">9.1x</text>
<line x1="1829.8" y1="735.9" x2="1848" y2="735.9" stroke="#1a1a1a" stroke-width="1.4"/>
<text x="1823.3" y="720.4" font-size="18.6" fill="#1a1a1a" stroke="#1a1a1a" stroke-width="0.45">9.4x</text>
<line x1="1893.8" y1="657.2" x2="1931.3" y2="657.2" stroke="#1a1a1a" stroke-width="1.4"/>
<text x="1891" y="641.3" font-size="18.6" fill="#1a1a1a" stroke="#1a1a1a" stroke-width="0.45">8.2x</text>
<line x1="1893.8" y1="687.8" x2="1912.4" y2="687.8" stroke="#1a1a1a" stroke-width="1.4"/>
<text x="1891" y="675" font-size="18.6" fill="#1a1a1a" stroke="#1a1a1a" stroke-width="0.45">9.3x</text>
<text transform="translate(1511.1,831.9) rotate(-90)" font-size="23" fill="#1a1a1a" text-anchor="middle" letter-spacing="-0.55">RLU (x10<tspan font-size="11.5" dy="-8.5">4</tspan><tspan dy="8.5">)</tspan></text>
<text x="1504.3" y="1042.9" font-size="21.5" fill="#1a1a1a" stroke="#1a1a1a" stroke-width="0.45">NPR1</text>
<text x="1504.3" y="1075.6" font-size="21.5" fill="#1a1a1a" stroke="#1a1a1a" stroke-width="0.45">NPR4</text>
<text x="1504.3" y="1105.6" font-size="21.5" fill="#1a1a1a" stroke="#1a1a1a" stroke-width="0.45">NLuc</text>
<rect x="1578.7" y="1028.3" width="352.1" height="15.4" fill="#92c4ea"/>
<text x="1756.05" y="1042" font-size="22.8" text-anchor="middle" fill="#1a1a1a" stroke="#1a1a1a" stroke-width="0.45">40</text>
<rect x="1578.7" y="1060.3" width="352.1" height="15.4" fill="#80cc9b"/>
<text x="1756.05" y="1074.7" font-size="22.8" text-anchor="middle" fill="#1a1a1a" stroke="#1a1a1a" stroke-width="0.45">10</text>
<text x="1595" y="1104.8" font-size="22.8" text-anchor="middle" fill="#1a1a1a" stroke="#1a1a1a" stroke-width="0.45">10</text>
<text x="1659.4" y="1104.8" font-size="22.8" text-anchor="middle" fill="#1a1a1a" stroke="#1a1a1a" stroke-width="0.45">20</text>
<text x="1722.5" y="1104.8" font-size="22.8" text-anchor="middle" fill="#1a1a1a" stroke="#1a1a1a" stroke-width="0.45">30</text>
<text x="1789" y="1104.8" font-size="22.8" text-anchor="middle" fill="#1a1a1a" stroke="#1a1a1a" stroke-width="0.45">40</text>
<text x="1852.2" y="1104.8" font-size="22.8" text-anchor="middle" fill="#1a1a1a" stroke="#1a1a1a" stroke-width="0.45">50</text>
<text x="1916.8" y="1104.8" font-size="22.8" text-anchor="middle" fill="#1a1a1a" stroke="#1a1a1a" stroke-width="0.45">60</text>
<path d="M1577.5,1105.5 L1930,1088 L1930,1105.5 Z" fill="#f28174" stroke="none" stroke-width="1"/>
<clipPath id="cliph"><path d="M1577.5,1105.5 L1930,1088 L1930,1105.5 Z"/></clipPath>
<g clip-path="url(#cliph)">
<text x="1595" y="1104.8" font-size="22.8" text-anchor="middle" fill="#6e2a2a" stroke="#6e2a2a" stroke-width="0.45">10</text>
<text x="1659.4" y="1104.8" font-size="22.8" text-anchor="middle" fill="#6e2a2a" stroke="#6e2a2a" stroke-width="0.45">20</text>
<text x="1722.5" y="1104.8" font-size="22.8" text-anchor="middle" fill="#6e2a2a" stroke="#6e2a2a" stroke-width="0.45">30</text>
<text x="1789" y="1104.8" font-size="22.8" text-anchor="middle" fill="#6e2a2a" stroke="#6e2a2a" stroke-width="0.45">40</text>
<text x="1852.2" y="1104.8" font-size="22.8" text-anchor="middle" fill="#6e2a2a" stroke="#6e2a2a" stroke-width="0.45">50</text>
<text x="1916.8" y="1104.8" font-size="22.8" text-anchor="middle" fill="#6e2a2a" stroke="#6e2a2a" stroke-width="0.45">60</text>
</g>
<text x="1756" y="1127.7" font-size="22.8" text-anchor="middle" fill="#1a1a1a" stroke="#1a1a1a" stroke-width="0.45">(ng/well)</text>
</svg></body></html>
